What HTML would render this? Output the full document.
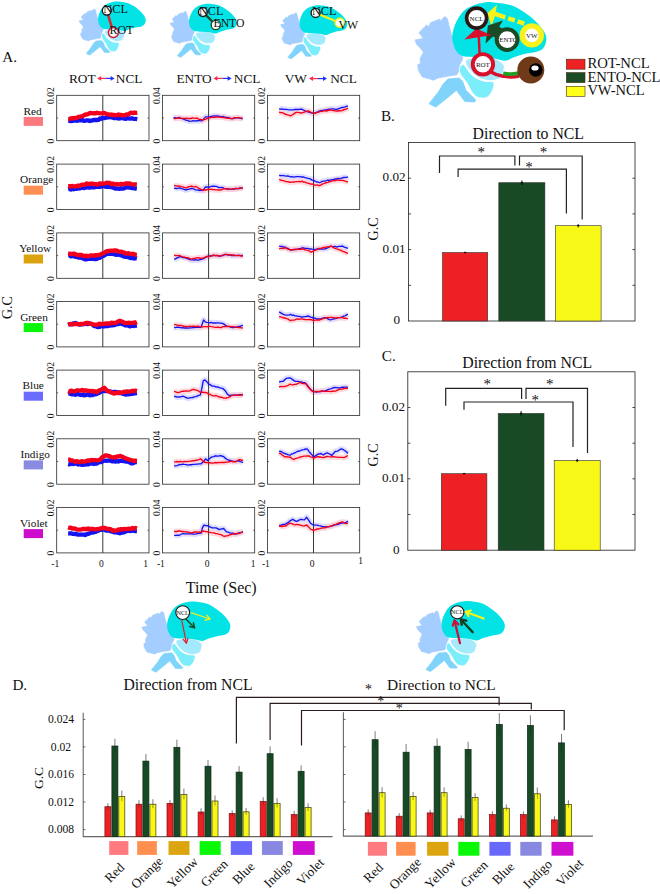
<!DOCTYPE html>
<html><head><meta charset="utf-8"><title>Figure</title>
<style>
html,body{margin:0;padding:0;background:#fff;}
svg{display:block;font-family:"Liberation Serif",serif;}
</style></head><body>
<svg width="660" height="894" viewBox="0 0 660 894">
<rect width="660" height="894" fill="#fff"/>
<defs><g id="brain">
<path d="M65.7 176.2 L96.8 171.2 L80.2 149.2 L109.2 120.2 L115.4 128.5 L123.7 111.9 L156.8 99.5 L159.7 106.6 L175.5 89.2 L185.8 97.4 L190.0 118.2 L200.3 155.4 L212.8 192.7 L229.3 230.0 L241.8 238.3 L241.8 246.6 L231.4 267.3 L225.2 296.3 L221.0 304.6 L183.8 310.8 L150.6 317.0 L134.0 325.3 L121.6 321.2 L92.6 312.9 L78.1 288.0 L76.0 267.3 L86.4 263.2 L84.3 246.6 L96.8 221.7 L88.5 209.3 L71.9 192.7Z" fill="#a4ceff" stroke="#a4ceff" stroke-width="3" stroke-linejoin="round"/>
<path d="M187.9 321.2 L229.3 317.0 L241.8 329.5 L254.2 362.6 L279.0 387.5 L291.5 399.9 L285.3 406.1 L250.0 404.0 L225.2 370.9 L219.0 362.6 L183.8 391.6 L142.3 424.7 L117.5 412.3 L150.6 370.9 L171.3 337.7Z" fill="#80d3fa" stroke="#80d3fa" stroke-width="3" stroke-linejoin="round"/>
<path d="M232.2 276.3 C234.8 273.0 239.4 263.5 246.3 268.1 C253.2 272.7 264.6 294.8 273.7 303.7 C282.8 312.6 292.6 317.2 301.1 321.5 C309.6 325.8 316.3 327.7 324.8 329.3 C333.3 330.9 346.6 328.8 352.2 331.1 C357.8 333.4 358.7 336.4 358.1 343.0 C357.5 349.6 353.4 362.6 348.5 370.4 C343.6 378.2 337.0 387.1 328.5 390.0 C320.0 392.9 305.8 391.4 297.4 388.1 C288.9 384.8 284.4 379.2 277.8 370.4 C271.2 361.6 265.3 346.3 258.1 335.2 C250.9 324.1 239.0 311.6 234.4 303.7 C229.8 295.8 230.8 292.4 230.4 287.8 C230.0 283.2 229.5 279.6 232.2 276.3Z" fill="#7ceefb" stroke="#fff" stroke-width="3"/>
<path d="M254.1 252.6 C256.6 249.2 257.5 247.0 269.3 244.8 C281.1 242.6 308.1 238.7 324.8 239.3 C341.5 239.9 357.9 243.7 369.3 248.5 C380.7 253.3 389.0 262.2 393.3 268.1 C397.6 274.0 396.8 275.8 395.2 283.7 C393.6 291.6 390.5 308.5 383.7 315.6 C376.9 322.7 364.2 324.8 354.4 326.3 C344.6 327.8 335.3 327.2 324.8 324.4 C314.3 321.6 301.4 316.4 291.5 309.6 C281.6 302.8 271.8 291.1 265.6 283.7 C259.4 276.3 256.3 270.4 254.4 265.2 C252.5 260.0 251.6 256.0 254.1 252.6Z" fill="#a4e9fc" stroke="#fff" stroke-width="3.4"/>
<path d="M351.5 36.3 C368.2 37.8 399.7 41.2 418.6 46.8 C437.5 52.4 450.4 61.0 464.8 69.9 C479.2 78.8 493.2 89.6 504.9 100.1 C516.6 110.6 527.4 122.0 535.2 133.1 C543.0 144.2 550.1 155.6 551.7 166.7 C553.4 177.8 549.5 191.4 545.1 199.7 C540.7 208.0 536.4 212.2 525.3 216.7 C514.2 221.2 494.1 222.8 478.5 226.6 C462.9 230.4 445.2 235.4 431.8 239.8 C418.4 244.2 411.6 252.4 398.2 253.0 C384.8 253.6 368.2 245.3 351.5 243.1 C334.8 240.9 315.9 240.9 298.1 239.8 C280.3 238.7 258.1 240.3 244.8 236.5 C231.5 232.7 225.0 225.6 218.4 216.7 C211.8 207.8 207.4 194.4 205.2 183.2 C203.0 172.0 203.0 161.8 205.2 149.6 C207.4 137.4 211.8 123.3 218.4 110.0 C225.0 96.7 233.7 80.4 244.8 69.9 C255.9 59.4 272.6 52.1 284.9 46.8 C297.2 41.5 307.4 39.8 318.5 38.0 C329.6 36.2 334.8 34.8 351.5 36.3Z" fill="#03e3e5"/>
</g>
<g id="brainS">
<path d="M65.7 176.2 L96.8 171.2 L80.2 149.2 L109.2 120.2 L115.4 128.5 L123.7 111.9 L156.8 99.5 L159.7 106.6 L175.5 89.2 L185.8 97.4 L190.0 118.2 L200.3 155.4 L212.8 192.7 L229.3 230.0 L241.8 238.3 L241.8 246.6 L231.4 267.3 L225.2 296.3 L221.0 304.6 L183.8 310.8 L150.6 317.0 L134.0 325.3 L121.6 321.2 L92.6 312.9 L78.1 288.0 L76.0 267.3 L86.4 263.2 L84.3 246.6 L96.8 221.7 L88.5 209.3 L71.9 192.7Z" fill="#a4ceff" stroke="#a4ceff" stroke-width="3" stroke-linejoin="round"/>
<path d="M187.9 325.2 L229.3 321.0 L241.8 333.5 L254.2 366.6 L279.0 391.5 L291.5 403.9 L285.3 410.1 L250.0 408.0 L225.2 374.9 L219.0 366.6 L183.8 395.6 L142.3 428.7 L117.5 416.3 L150.6 374.9 L171.3 341.7Z" fill="#80d3fa" stroke="#80d3fa" stroke-width="3" stroke-linejoin="round"/>
<path d="M232.2 277.0 C234.8 273.5 239.4 263.1 246.3 268.1 C253.2 273.1 264.6 297.2 273.7 306.9 C282.8 316.6 292.6 321.7 301.1 326.3 C309.6 331.0 316.3 333.1 324.8 334.8 C333.3 336.6 346.6 334.3 352.2 336.8 C357.8 339.3 358.7 342.6 358.1 349.8 C357.5 356.9 353.4 371.1 348.5 379.6 C343.6 388.2 337.0 397.8 328.5 401.0 C320.0 404.2 305.8 402.5 297.4 398.9 C288.9 395.3 284.4 389.2 277.8 379.6 C271.2 370.0 265.3 353.4 258.1 341.2 C250.9 329.1 239.0 315.5 234.4 306.9 C229.8 298.3 230.8 294.6 230.4 289.6 C230.0 284.6 229.5 280.6 232.2 277.0Z" fill="#7ceefb" stroke="#fff" stroke-width="4"/>
<path d="M254.1 252.6 C256.6 249.2 257.5 247.0 269.3 244.8 C281.1 242.6 308.1 238.7 324.8 239.3 C341.5 239.9 357.9 243.7 369.3 248.5 C380.7 253.3 389.0 262.2 393.3 268.1 C397.6 274.0 396.8 275.8 395.2 283.7 C393.6 291.6 390.5 308.5 383.7 315.6 C376.9 322.7 364.2 324.8 354.4 326.3 C344.6 327.8 335.3 327.2 324.8 324.4 C314.3 321.6 301.4 316.4 291.5 309.6 C281.6 302.8 271.8 291.1 265.6 283.7 C259.4 276.3 256.3 270.4 254.4 265.2 C252.5 260.0 251.6 256.0 254.1 252.6Z" fill="#a4e9fc" stroke="#fff" stroke-width="4"/>
<path d="M351.5 36.3 C368.2 37.8 399.7 41.2 418.6 46.8 C437.5 52.4 450.4 61.0 464.8 69.9 C479.2 78.8 493.2 89.6 504.9 100.1 C516.6 110.6 527.4 122.0 535.2 133.1 C543.0 144.2 550.1 155.6 551.7 166.7 C553.4 177.8 549.5 191.4 545.1 199.7 C540.7 208.0 536.4 212.2 525.3 216.7 C514.2 221.2 494.1 222.8 478.5 226.6 C462.9 230.4 445.2 235.4 431.8 239.8 C418.4 244.2 411.6 252.4 398.2 253.0 C384.8 253.6 368.2 245.3 351.5 243.1 C334.8 240.9 315.9 240.9 298.1 239.8 C280.3 238.7 258.1 240.3 244.8 236.5 C231.5 232.7 225.0 225.6 218.4 216.7 C211.8 207.8 207.4 194.4 205.2 183.2 C203.0 172.0 203.0 161.8 205.2 149.6 C207.4 137.4 211.8 123.3 218.4 110.0 C225.0 96.7 233.7 80.4 244.8 69.9 C255.9 59.4 272.6 52.1 284.9 46.8 C297.2 41.5 307.4 39.8 318.5 38.0 C329.6 36.2 334.8 34.8 351.5 36.3Z" fill="#03e3e5"/>
</g></defs>
<use href="#brainS" transform="translate(70.10 -3.50) scale(0.1370)"/>
<use href="#brainS" transform="translate(161.09 -1.17) scale(0.1370)"/>
<use href="#brainS" transform="translate(271.59 0.33) scale(0.1370)"/>
<use href="#brain" transform="translate(130.00 595.00) scale(0.1818)"/>
<use href="#brain" transform="translate(404.50 594.50) scale(0.1818)"/>
<use href="#brain" transform="translate(397.30 -7.60) scale(0.2700)"/>
<line x1="106.8" y1="10.6" x2="113.4" y2="32.5" stroke="#e0202c" stroke-width="2.5"/>
<circle cx="106.8" cy="10.6" r="4.5" fill="#fff" stroke="#111" stroke-width="1.3"/>
<circle cx="113.4" cy="32.5" r="5.0" fill="#fff" stroke="#d8102c" stroke-width="1.4"/>
<text x="103.30" y="12.80" font-size="12.3" text-anchor="start" fill="#111">NCL</text>
<text x="109.60" y="34.30" font-size="12" text-anchor="start" fill="#111">ROT</text>
<line x1="202.9" y1="12.1" x2="215.8" y2="25" stroke="#1d4a26" stroke-width="2.2"/>
<circle cx="202.9" cy="12.1" r="4.4" fill="#fff" stroke="#111" stroke-width="1.3"/>
<circle cx="215.8" cy="25" r="4.6" fill="#fff" stroke="#1d4a26" stroke-width="1.4"/>
<text x="199.10" y="15.20" font-size="12.1" text-anchor="start" fill="#111">NCL</text>
<text x="213.50" y="27.10" font-size="11.7" text-anchor="start" fill="#111">ENTO</text>
<line x1="315.6" y1="12.9" x2="339.8" y2="22.7" stroke="#f4f01a" stroke-width="2.2"/>
<circle cx="315.6" cy="12.9" r="4.5" fill="#fff" stroke="#111" stroke-width="1.3"/>
<circle cx="339.8" cy="22.7" r="4.6" fill="#fff" stroke="#f4f01a" stroke-width="1.6"/>
<text x="312.10" y="14.60" font-size="12.1" text-anchor="start" fill="#111">NCL</text>
<text x="338.60" y="28.80" font-size="11.8" text-anchor="start" fill="#111">VW</text>
<line x1="190.9" y1="612.6" x2="210" y2="619" stroke="#f2ee1c" stroke-width="1.3" stroke-linecap="round"/>
<path d="M205.1 620.1 L210 619 L206.8 615.2" fill="none" stroke="#f2ee1c" stroke-width="1.3" stroke-linecap="round" stroke-linejoin="round"/>
<line x1="186.4" y1="619.5" x2="194.5" y2="627.7" stroke="#1d4a26" stroke-width="1.5" stroke-linecap="round"/>
<path d="M189.6 626.5 L194.5 627.7 L193.4 622.8" fill="none" stroke="#1d4a26" stroke-width="1.5" stroke-linecap="round" stroke-linejoin="round"/>
<line x1="181.8" y1="620.5" x2="186.4" y2="643.2" stroke="#e0202c" stroke-width="1.2" stroke-linecap="round"/>
<path d="M183.2 639.4 L186.4 643.2 L187.9 638.4" fill="none" stroke="#e0202c" stroke-width="1.2" stroke-linecap="round" stroke-linejoin="round"/>
<circle cx="182.7" cy="612.6" r="6.9" fill="#fff" stroke="#1a1a1a" stroke-width="1.1"/>
<text x="182.70" y="614.70" font-size="6.2" text-anchor="middle" fill="#111">NCL</text>
<line x1="483.6" y1="618.6" x2="465.5" y2="611.7" stroke="#f6f21a" stroke-width="2.1" stroke-linecap="round"/>
<path d="M470.8 610.4 L465.5 611.7 L468.6 616.2" fill="none" stroke="#f6f21a" stroke-width="2.1" stroke-linecap="round" stroke-linejoin="round"/>
<line x1="472.7" y1="632.3" x2="460.9" y2="619.5" stroke="#163d20" stroke-width="2.4" stroke-linecap="round"/>
<path d="M466.3 620.7 L460.9 619.5 L461.7 624.9" fill="none" stroke="#163d20" stroke-width="2.4" stroke-linecap="round" stroke-linejoin="round"/>
<line x1="460" y1="643.2" x2="454.5" y2="620.5" stroke="#cf1038" stroke-width="2.2" stroke-linecap="round"/>
<path d="M458.4 624.4 L454.5 620.5 L452.8 625.7" fill="none" stroke="#cf1038" stroke-width="2.2" stroke-linecap="round" stroke-linejoin="round"/>
<circle cx="457.3" cy="612.3" r="6.6" fill="#fff" stroke="#1a1a1a" stroke-width="1.1"/>
<text x="457.30" y="614.40" font-size="6.2" text-anchor="middle" fill="#111">NCL</text>
<path d="M491 72 Q496.5 75.4 503 76.2 Q511 77.8 519 76.2" fill="none" stroke="#d8102c" stroke-width="3.4"/>
<path d="M503.2 73.4 Q510.5 75 518.2 73.2" fill="none" stroke="#1fa024" stroke-width="3.8"/>
<circle cx="530.8" cy="70" r="13.5" fill="#6f3a18" stroke="none" stroke-width="0"/>
<circle cx="535.8" cy="70" r="6.8" fill="#000" stroke="none" stroke-width="0"/>
<ellipse cx="535" cy="68" rx="3.6" ry="2.6" fill="#fff"/>
<line x1="493.5" y1="13.4" x2="525.5" y2="24" stroke="#f6f21a" stroke-width="4.4" stroke-dasharray="12.4 3 7 3 7 3 7"/>
<path d="M487.3 13.3 L497 4.8 L495.6 13 L494.4 18 L491.5 26 Z" fill="#f6f21a"/>
<path d="M487.9 25.5 L503 20.4 L499.2 26.6 L504 30 L498 39 L493 36.6 L485.5 43.6 Z" fill="#1b4a25"/>
<line x1="479.6" y1="54" x2="478.7" y2="34" stroke="#d8102c" stroke-width="2.5"/>
<path d="M464.2 39.4 L476.4 28.4 L491.5 35.2 Z" fill="#d8102c"/>
<circle cx="531.8" cy="35.4" r="9.5" fill="#fff" stroke="#f6f21a" stroke-width="5.4"/>
<circle cx="507.1" cy="39.6" r="10.4" fill="#fff" stroke="#1b4a25" stroke-width="4.0"/>
<circle cx="476.6" cy="18.1" r="10" fill="#fff" stroke="#2a1816" stroke-width="3.6"/>
<circle cx="482.9" cy="64.3" r="10.2" fill="#fff" stroke="#d8102c" stroke-width="3.9"/>
<text x="476.60" y="20.50" font-size="7" text-anchor="middle" fill="#111">NCL</text>
<text x="482.90" y="66.70" font-size="7" text-anchor="middle" fill="#111">ROT</text>
<text x="531.80" y="37.80" font-size="7" text-anchor="middle" fill="#111">VW</text>
<clipPath id="entoclip"><circle cx="507.1" cy="39.6" r="8.5"/></clipPath>
<text x="508.4" y="42" font-size="7" text-anchor="middle" fill="#111" clip-path="url(#entoclip)">ENTO</text>
<rect x="566.3" y="59.2" width="18.7" height="10" fill="#ee2225" stroke="#4a2a10" stroke-width="0.6"/>
<rect x="566.3" y="72.6" width="18.7" height="10" fill="#1a4d26" stroke="#4a2a10" stroke-width="0.6"/>
<rect x="566.3" y="86.3" width="18.7" height="10" fill="#ffff1a" stroke="#4a2a10" stroke-width="0.6"/>
<text x="587.40" y="67.60" font-size="14.7" text-anchor="start" fill="#111">ROT-NCL</text>
<text x="587.40" y="81.70" font-size="14.7" text-anchor="start" fill="#111">ENTO-NCL</text>
<text x="587.40" y="95.40" font-size="14.5" text-anchor="start" fill="#111">VW-NCL</text>
<g id="panelA">
<rect x="56.7" y="95.3" width="92.3" height="45.4" fill="none" stroke="#2a2a2a" stroke-width="0.8"/>
<line x1="102.8" y1="95.3" x2="102.8" y2="140.7" stroke="#222" stroke-width="0.9"/>
<polyline points="68.2,120.8 69.6,120.8 71.1,121.0 72.5,120.8 74.0,120.6 75.4,120.4 76.8,120.8 78.2,120.5 79.6,120.2 81.1,120.4 82.5,120.0 84.0,120.9 85.5,120.7 86.9,120.4 88.4,120.4 89.8,121.0 91.3,120.7 92.7,120.2 94.1,120.0 95.5,120.0 96.9,120.0 98.4,119.9 99.8,118.5 101.3,118.8 102.7,117.8 104.2,118.1 105.6,117.9 107.1,117.1 108.5,117.4 110.0,117.1 111.4,117.2 112.8,117.8 114.2,118.2 115.6,118.2 117.1,117.8 118.5,118.5 120.0,118.3 121.5,117.9 122.9,118.3 124.4,118.7 125.8,118.9 127.2,118.1 128.6,118.4 130.0,118.7 131.5,118.2 132.9,118.6 134.4,118.9 135.8,118.9 137.3,119.2" fill="none" stroke="#1414f0" stroke-width="4.3" stroke-linejoin="round" stroke-linecap="butt"/>
<polyline points="68.2,118.8 69.6,118.8 71.1,118.4 72.5,118.1 74.0,118.3 75.4,117.8 76.8,117.9 78.2,117.0 79.6,116.8 81.1,116.4 82.5,116.2 84.0,115.2 85.5,114.5 86.9,114.5 88.4,113.9 89.8,113.0 91.3,113.0 92.7,113.3 94.1,113.2 95.5,113.3 96.9,112.7 98.4,113.2 99.8,113.4 101.3,113.3 102.7,113.2 104.2,113.0 105.6,113.6 107.1,114.0 108.5,114.3 110.0,114.8 111.4,114.5 112.8,115.2 114.2,114.9 115.6,115.3 117.1,115.1 118.5,114.5 120.0,115.1 121.5,114.9 122.9,115.4 124.4,115.2 125.8,114.7 127.2,114.4 128.6,114.3 130.0,113.1 131.5,112.7 132.9,113.2 134.4,112.5 135.8,112.9 137.3,112.8" fill="none" stroke="#f2001c" stroke-width="4.3" stroke-linejoin="round" stroke-linecap="butt"/>
<line x1="56.7" y1="118.0" x2="58.2" y2="118.0" stroke="#222" stroke-width="0.7"/>
<line x1="147.5" y1="118.0" x2="149.0" y2="118.0" stroke="#222" stroke-width="0.7"/>
<text x="54.20" y="95.60" font-size="9.5" text-anchor="middle" fill="#111" transform="rotate(-90 54.20 95.60)">0.02</text>
<text x="54.20" y="141.00" font-size="9.5" text-anchor="middle" fill="#111" transform="rotate(-90 54.20 141.00)">0</text>
<polyline points="173.6,118.0 175.1,117.7 176.5,118.1 178.0,118.0 179.4,117.5 180.8,118.3 182.3,118.6 183.7,119.2 185.2,119.9 186.6,120.4 188.0,120.5 189.5,121.3 190.9,121.2 192.3,121.0 193.8,120.7 195.2,121.1 196.7,120.7 198.1,120.7 199.5,120.6 201.0,120.8 202.4,120.7 203.9,118.6 205.5,116.9 207.0,116.8 208.5,116.8 209.9,116.9 211.4,116.5 212.8,116.1 214.2,115.9 215.7,115.8 217.1,116.0 218.6,116.2 220.0,116.5 221.4,116.8 222.9,116.5 224.3,117.0 225.8,117.3 227.2,117.5 228.6,117.7 230.1,118.5 231.5,118.6 233.0,118.6 234.4,118.1 235.8,117.9 237.3,117.9 239.0,117.9 240.8,118.3 242.6,118.8" fill="none" stroke="#d2d2ff" stroke-width="5.6" stroke-linejoin="round" opacity="0.75"/>
<polyline points="173.6,118.3 175.1,118.6 176.5,118.4 178.0,117.9 179.4,118.0 180.8,118.1 182.3,118.3 183.7,118.5 185.2,118.3 186.6,118.1 188.0,118.7 189.5,118.4 190.9,118.5 192.3,118.0 193.8,118.2 195.2,118.3 196.7,117.9 198.1,118.9 199.5,119.4 201.0,119.4 202.4,120.1 203.9,119.7 205.5,119.4 207.0,118.5 208.5,117.9 209.9,117.8 211.4,117.3 212.8,117.2 214.2,117.2 215.7,117.2 217.1,117.1 218.6,117.1 220.0,117.1 221.4,117.4 222.9,117.5 224.3,117.5 225.8,118.1 227.2,118.2 228.6,118.3 230.1,118.1 231.5,118.6 233.0,118.5 234.4,117.7 235.8,117.7 237.3,117.6 239.0,117.8 240.8,118.2 242.6,118.0" fill="none" stroke="#ffcdd2" stroke-width="5.6" stroke-linejoin="round" opacity="0.75"/>
<rect x="162.4" y="95.3" width="92.3" height="45.4" fill="none" stroke="#2a2a2a" stroke-width="0.8"/>
<line x1="208.6" y1="95.3" x2="208.6" y2="140.7" stroke="#222" stroke-width="0.9"/>
<polyline points="173.6,118.0 175.1,117.7 176.5,118.1 178.0,118.0 179.4,117.5 180.8,118.3 182.3,118.6 183.7,119.2 185.2,119.9 186.6,120.4 188.0,120.5 189.5,121.3 190.9,121.2 192.3,121.0 193.8,120.7 195.2,121.1 196.7,120.7 198.1,120.7 199.5,120.6 201.0,120.8 202.4,120.7 203.9,118.6 205.5,116.9 207.0,116.8 208.5,116.8 209.9,116.9 211.4,116.5 212.8,116.1 214.2,115.9 215.7,115.8 217.1,116.0 218.6,116.2 220.0,116.5 221.4,116.8 222.9,116.5 224.3,117.0 225.8,117.3 227.2,117.5 228.6,117.7 230.1,118.5 231.5,118.6 233.0,118.6 234.4,118.1 235.8,117.9 237.3,117.9 239.0,117.9 240.8,118.3 242.6,118.8" fill="none" stroke="#1414f0" stroke-width="1.35" stroke-linejoin="round"/>
<polyline points="173.6,118.3 175.1,118.6 176.5,118.4 178.0,117.9 179.4,118.0 180.8,118.1 182.3,118.3 183.7,118.5 185.2,118.3 186.6,118.1 188.0,118.7 189.5,118.4 190.9,118.5 192.3,118.0 193.8,118.2 195.2,118.3 196.7,117.9 198.1,118.9 199.5,119.4 201.0,119.4 202.4,120.1 203.9,119.7 205.5,119.4 207.0,118.5 208.5,117.9 209.9,117.8 211.4,117.3 212.8,117.2 214.2,117.2 215.7,117.2 217.1,117.1 218.6,117.1 220.0,117.1 221.4,117.4 222.9,117.5 224.3,117.5 225.8,118.1 227.2,118.2 228.6,118.3 230.1,118.1 231.5,118.6 233.0,118.5 234.4,117.7 235.8,117.7 237.3,117.6 239.0,117.8 240.8,118.2 242.6,118.0" fill="none" stroke="#f2001c" stroke-width="1.35" stroke-linejoin="round"/>
<line x1="162.4" y1="118.0" x2="163.9" y2="118.0" stroke="#222" stroke-width="0.7"/>
<line x1="253.2" y1="118.0" x2="254.7" y2="118.0" stroke="#222" stroke-width="0.7"/>
<text x="159.90" y="95.60" font-size="9.5" text-anchor="middle" fill="#111" transform="rotate(-90 159.90 95.60)">0.04</text>
<text x="159.90" y="141.00" font-size="9.5" text-anchor="middle" fill="#111" transform="rotate(-90 159.90 141.00)">0</text>
<polyline points="279.1,108.8 280.5,109.1 282.0,108.9 283.4,109.4 284.8,109.4 286.3,109.4 287.7,109.7 289.2,109.9 290.6,109.8 292.0,109.8 293.5,109.8 294.9,109.5 296.4,109.5 297.8,109.5 299.2,109.3 300.7,109.2 302.1,109.2 303.6,110.2 305.0,110.8 306.4,111.4 307.9,111.9 309.3,112.3 310.7,112.5 312.1,113.1 313.5,113.3 314.9,113.0 316.4,112.4 317.8,111.9 319.2,111.1 320.7,110.6 322.1,110.5 323.6,110.4 325.0,110.0 326.4,109.9 327.9,109.4 329.3,109.1 330.8,109.1 332.2,108.8 333.6,108.9 335.1,109.3 336.5,109.4 338.0,108.8 339.4,108.4 340.8,107.8 342.3,107.5 343.7,107.3 345.1,106.9 346.5,106.4 347.9,105.9" fill="none" stroke="#d2d2ff" stroke-width="5.6" stroke-linejoin="round" opacity="0.75"/>
<polyline points="279.1,112.1 280.5,112.7 282.0,112.6 283.4,113.1 284.8,114.0 286.3,114.5 287.7,114.9 289.2,115.1 290.6,115.8 292.0,115.0 293.5,114.1 294.9,113.0 296.4,112.4 297.8,112.4 299.2,112.7 300.7,113.0 302.1,112.9 303.6,112.3 305.0,111.9 306.4,111.4 307.9,111.0 309.3,111.4 310.7,112.3 312.1,112.8 313.5,113.4 314.9,113.4 316.4,112.7 317.8,112.4 319.2,111.8 320.7,111.3 322.1,111.3 323.6,110.9 325.0,110.9 326.4,111.0 327.9,110.5 329.3,110.0 330.8,110.1 332.2,110.4 333.6,110.6 335.1,110.9 336.5,111.0 338.0,111.0 339.4,110.5 340.8,110.9 342.3,110.6 343.7,109.6 345.1,109.5 346.5,108.9 347.9,108.2" fill="none" stroke="#ffcdd2" stroke-width="5.6" stroke-linejoin="round" opacity="0.75"/>
<rect x="267.4" y="95.3" width="92.3" height="45.4" fill="none" stroke="#2a2a2a" stroke-width="0.8"/>
<line x1="313.5" y1="95.3" x2="313.5" y2="140.7" stroke="#222" stroke-width="0.9"/>
<polyline points="279.1,108.8 280.5,109.1 282.0,108.9 283.4,109.4 284.8,109.4 286.3,109.4 287.7,109.7 289.2,109.9 290.6,109.8 292.0,109.8 293.5,109.8 294.9,109.5 296.4,109.5 297.8,109.5 299.2,109.3 300.7,109.2 302.1,109.2 303.6,110.2 305.0,110.8 306.4,111.4 307.9,111.9 309.3,112.3 310.7,112.5 312.1,113.1 313.5,113.3 314.9,113.0 316.4,112.4 317.8,111.9 319.2,111.1 320.7,110.6 322.1,110.5 323.6,110.4 325.0,110.0 326.4,109.9 327.9,109.4 329.3,109.1 330.8,109.1 332.2,108.8 333.6,108.9 335.1,109.3 336.5,109.4 338.0,108.8 339.4,108.4 340.8,107.8 342.3,107.5 343.7,107.3 345.1,106.9 346.5,106.4 347.9,105.9" fill="none" stroke="#1414f0" stroke-width="1.35" stroke-linejoin="round"/>
<polyline points="279.1,112.1 280.5,112.7 282.0,112.6 283.4,113.1 284.8,114.0 286.3,114.5 287.7,114.9 289.2,115.1 290.6,115.8 292.0,115.0 293.5,114.1 294.9,113.0 296.4,112.4 297.8,112.4 299.2,112.7 300.7,113.0 302.1,112.9 303.6,112.3 305.0,111.9 306.4,111.4 307.9,111.0 309.3,111.4 310.7,112.3 312.1,112.8 313.5,113.4 314.9,113.4 316.4,112.7 317.8,112.4 319.2,111.8 320.7,111.3 322.1,111.3 323.6,110.9 325.0,110.9 326.4,111.0 327.9,110.5 329.3,110.0 330.8,110.1 332.2,110.4 333.6,110.6 335.1,110.9 336.5,111.0 338.0,111.0 339.4,110.5 340.8,110.9 342.3,110.6 343.7,109.6 345.1,109.5 346.5,108.9 347.9,108.2" fill="none" stroke="#f2001c" stroke-width="1.35" stroke-linejoin="round"/>
<line x1="267.4" y1="118.0" x2="268.9" y2="118.0" stroke="#222" stroke-width="0.7"/>
<line x1="358.2" y1="118.0" x2="359.7" y2="118.0" stroke="#222" stroke-width="0.7"/>
<text x="264.90" y="95.60" font-size="9.5" text-anchor="middle" fill="#111" transform="rotate(-90 264.90 95.60)">0.02</text>
<text x="264.90" y="141.00" font-size="9.5" text-anchor="middle" fill="#111" transform="rotate(-90 264.90 141.00)">0</text>
<rect x="56.7" y="164.1" width="92.3" height="45.4" fill="none" stroke="#2a2a2a" stroke-width="0.8"/>
<line x1="102.8" y1="164.1" x2="102.8" y2="209.5" stroke="#222" stroke-width="0.9"/>
<polyline points="68.1,189.2 69.5,188.9 71.0,189.5 72.4,188.9 73.8,189.3 75.3,188.8 76.7,188.9 78.2,188.2 79.6,188.5 81.0,188.0 82.5,187.5 83.9,188.1 85.4,187.7 86.8,187.1 88.2,187.6 89.7,187.5 91.1,187.4 92.6,187.4 94.0,187.4 95.4,186.9 96.9,186.9 98.3,186.7 99.7,187.0 101.1,186.7 102.5,186.1 103.9,186.0 105.4,186.7 106.8,186.9 108.2,186.8 109.7,186.6 111.1,187.2 112.6,187.4 114.0,188.0 115.4,188.7 116.9,188.5 118.3,188.6 119.8,188.8 121.2,188.2 122.6,188.6 124.1,188.3 125.5,187.7 127.0,187.1 128.4,187.5 129.8,187.5 131.3,188.0 132.7,187.9 134.1,188.3 135.5,188.5 136.9,188.7" fill="none" stroke="#1414f0" stroke-width="4.3" stroke-linejoin="round" stroke-linecap="butt"/>
<polyline points="68.1,186.3 69.5,186.2 71.0,186.3 72.4,185.9 73.8,186.4 75.3,186.5 76.7,186.2 78.2,185.5 79.6,185.8 81.0,185.1 82.5,184.6 83.9,184.9 85.4,184.2 86.8,183.4 88.2,184.2 89.7,183.9 91.1,183.6 92.6,183.6 94.0,184.2 95.4,184.2 96.9,184.5 98.3,184.3 99.7,183.4 101.1,183.8 102.5,183.5 103.9,183.7 105.4,183.3 106.8,182.7 108.2,182.9 109.7,183.0 111.1,184.1 112.6,183.6 114.0,183.9 115.4,184.5 116.9,184.0 118.3,184.4 119.8,184.4 121.2,183.8 122.6,184.1 124.1,184.2 125.5,183.5 127.0,183.4 128.4,183.7 129.8,183.4 131.3,184.0 132.7,184.4 134.1,184.4 135.5,184.3 136.9,184.4" fill="none" stroke="#f2001c" stroke-width="4.3" stroke-linejoin="round" stroke-linecap="butt"/>
<line x1="56.7" y1="186.8" x2="58.2" y2="186.8" stroke="#222" stroke-width="0.7"/>
<line x1="147.5" y1="186.8" x2="149.0" y2="186.8" stroke="#222" stroke-width="0.7"/>
<text x="54.20" y="164.40" font-size="9.5" text-anchor="middle" fill="#111" transform="rotate(-90 54.20 164.40)">0.02</text>
<text x="54.20" y="209.80" font-size="9.5" text-anchor="middle" fill="#111" transform="rotate(-90 54.20 209.80)">0</text>
<polyline points="174.1,188.6 175.5,188.2 177.0,188.6 178.4,188.2 179.8,188.0 181.3,188.6 182.7,188.8 184.2,189.3 185.6,190.0 187.0,189.5 188.5,189.4 189.9,188.8 191.4,188.5 192.8,188.7 194.2,189.1 195.7,189.8 197.1,190.2 198.6,190.0 200.0,190.5 201.4,190.2 202.9,190.6 204.2,188.6 205.5,187.0 207.0,186.9 208.5,187.1 209.9,187.0 211.4,186.3 212.8,186.2 214.2,186.2 215.7,186.3 217.1,186.7 218.6,187.5 220.0,187.6 221.4,187.4 222.9,187.7 224.3,188.3 225.8,188.7 227.2,189.0 228.6,189.0 230.1,189.3 231.5,189.3 233.0,189.1 234.4,189.1 235.8,188.4 237.3,188.6 238.7,188.5 240.1,187.9 241.5,188.1 242.9,187.8" fill="none" stroke="#d2d2ff" stroke-width="5.6" stroke-linejoin="round" opacity="0.75"/>
<polyline points="174.1,185.5 175.5,185.7 177.0,186.2 178.4,186.0 179.8,186.2 181.3,186.7 182.7,186.8 184.2,187.4 185.6,187.8 187.0,187.6 188.5,186.7 189.9,186.5 191.4,186.1 192.8,186.6 194.2,186.8 195.7,186.5 197.1,187.2 198.6,188.2 200.0,188.8 201.4,189.6 202.9,190.2 204.3,189.8 205.7,190.0 207.1,189.5 208.5,189.5 209.9,189.4 211.4,189.2 212.8,189.6 214.2,189.6 215.7,189.9 217.1,189.8 218.6,190.0 220.0,190.0 221.4,189.8 222.9,189.2 224.3,188.7 225.8,188.7 227.2,189.1 228.6,189.1 230.1,189.2 231.5,189.2 233.0,188.9 234.4,188.7 235.8,188.4 237.3,188.6 238.7,188.3 240.1,188.5 241.5,188.1 242.9,188.1" fill="none" stroke="#ffcdd2" stroke-width="5.6" stroke-linejoin="round" opacity="0.75"/>
<rect x="162.4" y="164.1" width="92.3" height="45.4" fill="none" stroke="#2a2a2a" stroke-width="0.8"/>
<line x1="208.6" y1="164.1" x2="208.6" y2="209.5" stroke="#222" stroke-width="0.9"/>
<polyline points="174.1,188.6 175.5,188.2 177.0,188.6 178.4,188.2 179.8,188.0 181.3,188.6 182.7,188.8 184.2,189.3 185.6,190.0 187.0,189.5 188.5,189.4 189.9,188.8 191.4,188.5 192.8,188.7 194.2,189.1 195.7,189.8 197.1,190.2 198.6,190.0 200.0,190.5 201.4,190.2 202.9,190.6 204.2,188.6 205.5,187.0 207.0,186.9 208.5,187.1 209.9,187.0 211.4,186.3 212.8,186.2 214.2,186.2 215.7,186.3 217.1,186.7 218.6,187.5 220.0,187.6 221.4,187.4 222.9,187.7 224.3,188.3 225.8,188.7 227.2,189.0 228.6,189.0 230.1,189.3 231.5,189.3 233.0,189.1 234.4,189.1 235.8,188.4 237.3,188.6 238.7,188.5 240.1,187.9 241.5,188.1 242.9,187.8" fill="none" stroke="#1414f0" stroke-width="1.35" stroke-linejoin="round"/>
<polyline points="174.1,185.5 175.5,185.7 177.0,186.2 178.4,186.0 179.8,186.2 181.3,186.7 182.7,186.8 184.2,187.4 185.6,187.8 187.0,187.6 188.5,186.7 189.9,186.5 191.4,186.1 192.8,186.6 194.2,186.8 195.7,186.5 197.1,187.2 198.6,188.2 200.0,188.8 201.4,189.6 202.9,190.2 204.3,189.8 205.7,190.0 207.1,189.5 208.5,189.5 209.9,189.4 211.4,189.2 212.8,189.6 214.2,189.6 215.7,189.9 217.1,189.8 218.6,190.0 220.0,190.0 221.4,189.8 222.9,189.2 224.3,188.7 225.8,188.7 227.2,189.1 228.6,189.1 230.1,189.2 231.5,189.2 233.0,188.9 234.4,188.7 235.8,188.4 237.3,188.6 238.7,188.3 240.1,188.5 241.5,188.1 242.9,188.1" fill="none" stroke="#f2001c" stroke-width="1.35" stroke-linejoin="round"/>
<line x1="162.4" y1="186.8" x2="163.9" y2="186.8" stroke="#222" stroke-width="0.7"/>
<line x1="253.2" y1="186.8" x2="254.7" y2="186.8" stroke="#222" stroke-width="0.7"/>
<text x="159.90" y="164.40" font-size="9.5" text-anchor="middle" fill="#111" transform="rotate(-90 159.90 164.40)">0.04</text>
<text x="159.90" y="209.80" font-size="9.5" text-anchor="middle" fill="#111" transform="rotate(-90 159.90 209.80)">0</text>
<polyline points="279.1,175.3 280.5,175.5 282.0,175.6 283.4,175.7 284.8,175.8 286.3,176.1 287.7,176.0 289.2,176.4 290.6,176.8 292.0,176.7 293.5,177.1 294.9,176.9 296.4,176.7 297.8,176.6 299.2,176.6 300.7,176.9 302.1,177.0 303.6,177.0 305.0,177.6 306.4,177.9 307.9,178.4 309.3,178.7 310.7,179.1 312.1,180.1 313.5,180.4 314.9,181.1 316.4,181.8 317.8,182.0 319.2,182.6 320.7,182.3 322.1,181.4 323.6,181.1 325.0,181.0 326.4,180.7 327.9,180.1 329.3,180.4 330.8,179.9 332.2,179.6 333.6,179.4 335.1,179.0 336.5,179.0 338.0,178.5 339.4,178.6 340.8,178.5 342.3,177.8 343.7,177.5 345.1,177.4 346.5,177.4 347.9,176.8" fill="none" stroke="#d2d2ff" stroke-width="5.6" stroke-linejoin="round" opacity="0.75"/>
<polyline points="279.1,179.4 280.5,180.0 282.0,180.5 283.4,180.7 284.8,181.2 286.3,181.5 287.7,181.6 289.2,182.2 290.6,182.2 292.0,182.1 293.5,182.0 294.9,181.9 296.4,181.6 297.8,181.6 299.2,181.3 300.7,181.8 302.1,181.2 303.6,182.1 305.0,182.0 306.4,182.9 307.9,183.2 309.3,183.5 310.7,184.2 312.1,184.0 313.5,184.6 314.9,185.2 316.4,185.1 317.8,185.0 319.2,185.7 320.7,185.2 322.1,184.1 323.6,183.7 325.0,183.1 326.4,182.6 327.9,182.4 329.3,181.6 330.8,181.5 332.2,180.8 333.6,180.6 335.1,180.7 336.5,180.1 338.0,180.2 339.4,180.4 340.8,180.4 342.3,180.4 343.7,180.5 345.1,181.2 346.5,181.7 347.9,181.7" fill="none" stroke="#ffcdd2" stroke-width="5.6" stroke-linejoin="round" opacity="0.75"/>
<rect x="267.4" y="164.1" width="92.3" height="45.4" fill="none" stroke="#2a2a2a" stroke-width="0.8"/>
<line x1="313.5" y1="164.1" x2="313.5" y2="209.5" stroke="#222" stroke-width="0.9"/>
<polyline points="279.1,175.3 280.5,175.5 282.0,175.6 283.4,175.7 284.8,175.8 286.3,176.1 287.7,176.0 289.2,176.4 290.6,176.8 292.0,176.7 293.5,177.1 294.9,176.9 296.4,176.7 297.8,176.6 299.2,176.6 300.7,176.9 302.1,177.0 303.6,177.0 305.0,177.6 306.4,177.9 307.9,178.4 309.3,178.7 310.7,179.1 312.1,180.1 313.5,180.4 314.9,181.1 316.4,181.8 317.8,182.0 319.2,182.6 320.7,182.3 322.1,181.4 323.6,181.1 325.0,181.0 326.4,180.7 327.9,180.1 329.3,180.4 330.8,179.9 332.2,179.6 333.6,179.4 335.1,179.0 336.5,179.0 338.0,178.5 339.4,178.6 340.8,178.5 342.3,177.8 343.7,177.5 345.1,177.4 346.5,177.4 347.9,176.8" fill="none" stroke="#1414f0" stroke-width="1.35" stroke-linejoin="round"/>
<polyline points="279.1,179.4 280.5,180.0 282.0,180.5 283.4,180.7 284.8,181.2 286.3,181.5 287.7,181.6 289.2,182.2 290.6,182.2 292.0,182.1 293.5,182.0 294.9,181.9 296.4,181.6 297.8,181.6 299.2,181.3 300.7,181.8 302.1,181.2 303.6,182.1 305.0,182.0 306.4,182.9 307.9,183.2 309.3,183.5 310.7,184.2 312.1,184.0 313.5,184.6 314.9,185.2 316.4,185.1 317.8,185.0 319.2,185.7 320.7,185.2 322.1,184.1 323.6,183.7 325.0,183.1 326.4,182.6 327.9,182.4 329.3,181.6 330.8,181.5 332.2,180.8 333.6,180.6 335.1,180.7 336.5,180.1 338.0,180.2 339.4,180.4 340.8,180.4 342.3,180.4 343.7,180.5 345.1,181.2 346.5,181.7 347.9,181.7" fill="none" stroke="#f2001c" stroke-width="1.35" stroke-linejoin="round"/>
<line x1="267.4" y1="186.8" x2="268.9" y2="186.8" stroke="#222" stroke-width="0.7"/>
<line x1="358.2" y1="186.8" x2="359.7" y2="186.8" stroke="#222" stroke-width="0.7"/>
<text x="264.90" y="164.40" font-size="9.5" text-anchor="middle" fill="#111" transform="rotate(-90 264.90 164.40)">0.02</text>
<text x="264.90" y="209.80" font-size="9.5" text-anchor="middle" fill="#111" transform="rotate(-90 264.90 209.80)">0</text>
<rect x="56.7" y="232.9" width="92.3" height="45.4" fill="none" stroke="#2a2a2a" stroke-width="0.8"/>
<line x1="102.8" y1="232.9" x2="102.8" y2="278.3" stroke="#222" stroke-width="0.9"/>
<polyline points="68.1,255.7 69.5,255.4 71.0,256.3 72.4,256.1 73.8,256.0 75.3,256.9 76.7,256.3 78.2,257.5 79.6,257.4 81.0,257.6 82.5,258.1 83.9,258.9 85.4,259.3 86.8,259.3 88.2,258.8 89.7,258.6 91.1,258.9 92.6,258.7 94.0,259.0 95.4,259.0 96.9,258.8 98.3,258.0 99.7,257.9 101.1,257.0 102.5,255.8 103.9,255.8 105.4,254.7 106.8,253.9 108.2,253.6 109.7,253.8 111.1,253.7 112.6,253.8 114.0,254.1 115.4,254.7 116.9,254.9 118.3,254.5 119.8,255.0 121.2,255.5 122.6,255.8 124.1,256.7 125.5,256.8 127.0,256.7 128.4,257.3 129.8,257.8 131.3,258.0 132.7,257.9 134.1,258.5 135.5,258.2 136.9,258.6" fill="none" stroke="#1414f0" stroke-width="4.3" stroke-linejoin="round" stroke-linecap="butt"/>
<polyline points="68.1,253.6 69.5,253.7 71.0,253.9 72.4,254.1 73.8,253.6 75.3,254.2 76.7,254.8 78.2,255.0 79.6,255.0 81.0,254.8 82.5,255.4 83.9,256.3 85.4,255.8 86.8,255.7 88.2,256.3 89.7,255.6 91.1,255.4 92.6,255.3 94.0,255.8 95.4,255.1 96.9,255.2 98.3,255.0 99.7,254.8 101.1,254.1 102.5,253.5 103.9,253.1 105.4,251.9 106.8,251.2 108.2,250.8 109.7,251.1 111.1,250.6 112.6,251.0 114.0,250.5 115.4,250.5 116.9,250.6 118.3,251.5 119.8,251.7 121.2,251.6 122.6,252.2 124.1,252.4 125.5,253.5 127.0,253.3 128.4,253.2 129.8,253.8 131.3,253.8 132.7,254.0 134.1,254.0 135.5,254.8 136.9,254.9" fill="none" stroke="#f2001c" stroke-width="4.3" stroke-linejoin="round" stroke-linecap="butt"/>
<line x1="56.7" y1="255.6" x2="58.2" y2="255.6" stroke="#222" stroke-width="0.7"/>
<line x1="147.5" y1="255.6" x2="149.0" y2="255.6" stroke="#222" stroke-width="0.7"/>
<text x="54.20" y="233.20" font-size="9.5" text-anchor="middle" fill="#111" transform="rotate(-90 54.20 233.20)">0.02</text>
<text x="54.20" y="278.60" font-size="9.5" text-anchor="middle" fill="#111" transform="rotate(-90 54.20 278.60)">0</text>
<polyline points="174.1,259.3 175.5,258.8 177.0,257.9 178.4,257.5 179.8,256.5 181.3,256.8 182.7,257.5 184.2,257.4 185.6,258.1 187.0,258.4 188.5,259.0 189.9,259.7 191.4,259.9 192.8,259.9 194.2,260.2 195.7,259.7 197.1,260.1 198.6,260.1 200.0,259.7 201.4,259.3 202.9,258.9 204.3,258.2 205.7,257.5 207.1,256.5 208.5,256.2 209.9,256.0 211.4,255.8 212.8,255.4 214.2,255.5 215.7,255.6 217.1,255.5 218.6,255.8 220.0,256.0 221.4,255.8 222.9,255.5 224.3,254.5 225.8,254.4 227.2,255.0 228.6,254.7 230.1,255.1 231.5,255.6 233.0,255.6 234.4,255.3 235.8,255.7 237.3,255.6 238.7,255.2 240.1,255.7 241.5,255.5 242.9,255.5" fill="none" stroke="#d2d2ff" stroke-width="5.6" stroke-linejoin="round" opacity="0.75"/>
<polyline points="174.1,255.1 175.5,255.5 177.0,255.6 178.4,255.6 179.8,255.6 181.3,256.4 182.7,256.8 184.2,257.1 185.6,257.5 187.0,257.7 188.5,257.9 189.9,258.6 191.4,259.1 192.8,258.5 194.2,258.7 195.7,258.0 197.1,257.9 198.6,257.6 200.0,258.3 201.4,258.1 202.9,258.1 204.3,257.7 205.7,256.9 207.1,256.7 208.5,256.5 209.9,255.9 211.4,256.2 212.8,255.5 214.2,255.1 215.7,255.7 217.1,255.4 218.6,256.1 220.0,256.0 221.4,255.7 222.9,255.1 224.3,254.9 225.8,254.4 227.2,254.3 228.6,255.0 230.1,254.6 231.5,255.0 233.0,254.8 234.4,255.4 235.8,255.4 237.3,255.3 238.7,255.6 240.1,255.7 241.5,256.0 242.9,256.0" fill="none" stroke="#ffcdd2" stroke-width="5.6" stroke-linejoin="round" opacity="0.75"/>
<rect x="162.4" y="232.9" width="92.3" height="45.4" fill="none" stroke="#2a2a2a" stroke-width="0.8"/>
<line x1="208.6" y1="232.9" x2="208.6" y2="278.3" stroke="#222" stroke-width="0.9"/>
<polyline points="174.1,259.3 175.5,258.8 177.0,257.9 178.4,257.5 179.8,256.5 181.3,256.8 182.7,257.5 184.2,257.4 185.6,258.1 187.0,258.4 188.5,259.0 189.9,259.7 191.4,259.9 192.8,259.9 194.2,260.2 195.7,259.7 197.1,260.1 198.6,260.1 200.0,259.7 201.4,259.3 202.9,258.9 204.3,258.2 205.7,257.5 207.1,256.5 208.5,256.2 209.9,256.0 211.4,255.8 212.8,255.4 214.2,255.5 215.7,255.6 217.1,255.5 218.6,255.8 220.0,256.0 221.4,255.8 222.9,255.5 224.3,254.5 225.8,254.4 227.2,255.0 228.6,254.7 230.1,255.1 231.5,255.6 233.0,255.6 234.4,255.3 235.8,255.7 237.3,255.6 238.7,255.2 240.1,255.7 241.5,255.5 242.9,255.5" fill="none" stroke="#1414f0" stroke-width="1.35" stroke-linejoin="round"/>
<polyline points="174.1,255.1 175.5,255.5 177.0,255.6 178.4,255.6 179.8,255.6 181.3,256.4 182.7,256.8 184.2,257.1 185.6,257.5 187.0,257.7 188.5,257.9 189.9,258.6 191.4,259.1 192.8,258.5 194.2,258.7 195.7,258.0 197.1,257.9 198.6,257.6 200.0,258.3 201.4,258.1 202.9,258.1 204.3,257.7 205.7,256.9 207.1,256.7 208.5,256.5 209.9,255.9 211.4,256.2 212.8,255.5 214.2,255.1 215.7,255.7 217.1,255.4 218.6,256.1 220.0,256.0 221.4,255.7 222.9,255.1 224.3,254.9 225.8,254.4 227.2,254.3 228.6,255.0 230.1,254.6 231.5,255.0 233.0,254.8 234.4,255.4 235.8,255.4 237.3,255.3 238.7,255.6 240.1,255.7 241.5,256.0 242.9,256.0" fill="none" stroke="#f2001c" stroke-width="1.35" stroke-linejoin="round"/>
<line x1="162.4" y1="255.6" x2="163.9" y2="255.6" stroke="#222" stroke-width="0.7"/>
<line x1="253.2" y1="255.6" x2="254.7" y2="255.6" stroke="#222" stroke-width="0.7"/>
<text x="159.90" y="233.20" font-size="9.5" text-anchor="middle" fill="#111" transform="rotate(-90 159.90 233.20)">0.04</text>
<text x="159.90" y="278.60" font-size="9.5" text-anchor="middle" fill="#111" transform="rotate(-90 159.90 278.60)">0</text>
<polyline points="279.1,246.2 280.5,246.4 282.0,246.4 283.4,247.0 284.8,247.0 286.3,247.8 287.7,248.4 289.2,249.4 290.6,250.0 292.0,249.9 293.5,249.4 294.9,249.6 296.4,249.6 297.8,249.1 299.2,248.6 300.7,248.4 302.1,247.8 303.6,248.0 305.0,248.4 306.4,248.3 307.9,248.4 309.3,249.0 310.7,249.0 312.1,249.2 313.5,249.3 314.9,249.4 316.4,249.2 317.8,248.9 319.2,249.0 320.7,249.0 322.1,248.9 323.6,249.1 325.0,248.8 326.4,248.5 327.9,247.6 329.3,246.8 330.8,246.1 332.2,246.7 333.6,246.6 335.1,246.4 336.5,247.0 338.0,246.7 339.4,246.4 340.8,246.3 342.3,246.0 343.7,246.8 345.1,247.4 346.5,247.8 347.9,248.4" fill="none" stroke="#d2d2ff" stroke-width="5.6" stroke-linejoin="round" opacity="0.75"/>
<polyline points="279.1,249.0 280.5,248.4 282.0,248.1 283.4,248.5 284.8,247.9 286.3,248.2 287.7,249.1 289.2,249.3 290.6,250.1 292.0,249.6 293.5,249.9 294.9,249.2 296.4,249.2 297.8,249.4 299.2,249.2 300.7,249.3 302.1,249.0 303.6,248.9 305.0,249.9 306.4,250.1 307.9,250.3 309.5,251.1 311.2,252.3 313.5,250.7 314.9,250.4 316.4,249.8 317.8,249.3 319.2,248.4 320.7,248.3 322.1,248.0 323.6,247.5 325.0,247.5 326.4,246.9 327.9,247.0 329.3,246.8 330.8,246.2 332.2,246.6 333.6,247.7 335.1,248.3 336.5,248.8 338.0,249.1 339.4,250.0 340.8,250.1 342.3,251.1 343.7,251.6 345.1,252.2 346.5,252.8 347.9,253.4" fill="none" stroke="#ffcdd2" stroke-width="5.6" stroke-linejoin="round" opacity="0.75"/>
<rect x="267.4" y="232.9" width="92.3" height="45.4" fill="none" stroke="#2a2a2a" stroke-width="0.8"/>
<line x1="313.5" y1="232.9" x2="313.5" y2="278.3" stroke="#222" stroke-width="0.9"/>
<polyline points="279.1,246.2 280.5,246.4 282.0,246.4 283.4,247.0 284.8,247.0 286.3,247.8 287.7,248.4 289.2,249.4 290.6,250.0 292.0,249.9 293.5,249.4 294.9,249.6 296.4,249.6 297.8,249.1 299.2,248.6 300.7,248.4 302.1,247.8 303.6,248.0 305.0,248.4 306.4,248.3 307.9,248.4 309.3,249.0 310.7,249.0 312.1,249.2 313.5,249.3 314.9,249.4 316.4,249.2 317.8,248.9 319.2,249.0 320.7,249.0 322.1,248.9 323.6,249.1 325.0,248.8 326.4,248.5 327.9,247.6 329.3,246.8 330.8,246.1 332.2,246.7 333.6,246.6 335.1,246.4 336.5,247.0 338.0,246.7 339.4,246.4 340.8,246.3 342.3,246.0 343.7,246.8 345.1,247.4 346.5,247.8 347.9,248.4" fill="none" stroke="#1414f0" stroke-width="1.35" stroke-linejoin="round"/>
<polyline points="279.1,249.0 280.5,248.4 282.0,248.1 283.4,248.5 284.8,247.9 286.3,248.2 287.7,249.1 289.2,249.3 290.6,250.1 292.0,249.6 293.5,249.9 294.9,249.2 296.4,249.2 297.8,249.4 299.2,249.2 300.7,249.3 302.1,249.0 303.6,248.9 305.0,249.9 306.4,250.1 307.9,250.3 309.5,251.1 311.2,252.3 313.5,250.7 314.9,250.4 316.4,249.8 317.8,249.3 319.2,248.4 320.7,248.3 322.1,248.0 323.6,247.5 325.0,247.5 326.4,246.9 327.9,247.0 329.3,246.8 330.8,246.2 332.2,246.6 333.6,247.7 335.1,248.3 336.5,248.8 338.0,249.1 339.4,250.0 340.8,250.1 342.3,251.1 343.7,251.6 345.1,252.2 346.5,252.8 347.9,253.4" fill="none" stroke="#f2001c" stroke-width="1.35" stroke-linejoin="round"/>
<line x1="267.4" y1="255.6" x2="268.9" y2="255.6" stroke="#222" stroke-width="0.7"/>
<line x1="358.2" y1="255.6" x2="359.7" y2="255.6" stroke="#222" stroke-width="0.7"/>
<text x="264.90" y="233.20" font-size="9.5" text-anchor="middle" fill="#111" transform="rotate(-90 264.90 233.20)">0.02</text>
<text x="264.90" y="278.60" font-size="9.5" text-anchor="middle" fill="#111" transform="rotate(-90 264.90 278.60)">0</text>
<rect x="56.7" y="301.5" width="92.3" height="45.4" fill="none" stroke="#2a2a2a" stroke-width="0.8"/>
<line x1="102.8" y1="301.5" x2="102.8" y2="346.9" stroke="#222" stroke-width="0.9"/>
<polyline points="68.1,324.8 69.5,324.1 71.0,324.3 72.4,323.9 73.8,323.3 75.3,323.0 76.7,323.6 78.2,324.0 79.6,324.7 81.0,324.4 82.5,324.1 83.9,324.1 85.4,323.5 86.8,324.0 88.2,324.0 89.7,323.6 91.1,323.9 92.6,324.7 94.0,326.0 95.4,326.1 96.9,326.8 98.3,327.1 99.7,326.9 101.1,326.1 102.5,326.1 103.9,326.5 105.4,325.9 106.8,326.1 108.2,326.0 109.7,325.7 111.1,325.4 112.6,325.4 114.0,325.0 115.4,324.9 116.9,323.7 118.3,324.2 119.8,323.3 121.2,323.7 122.6,324.1 124.1,324.6 125.5,325.5 127.0,325.2 128.4,325.7 129.8,326.3 131.3,325.9 132.7,325.4 134.1,326.0 135.5,325.7 136.9,325.5" fill="none" stroke="#1414f0" stroke-width="4.3" stroke-linejoin="round" stroke-linecap="butt"/>
<polyline points="68.1,324.3 69.5,324.1 71.0,323.8 72.4,324.5 73.8,324.1 75.3,324.0 76.7,324.0 78.2,324.2 79.6,324.3 81.0,323.8 82.5,324.2 83.9,324.0 85.4,323.1 86.8,322.8 88.2,323.0 89.7,323.8 91.1,323.6 92.6,324.3 94.0,324.7 95.4,324.6 96.9,324.8 98.3,324.0 99.7,323.7 101.1,324.3 102.5,323.8 103.9,323.9 105.4,323.5 106.8,323.5 108.2,323.3 109.7,323.6 111.1,322.7 112.6,323.0 114.0,322.8 115.4,322.8 116.9,322.4 118.3,321.2 119.8,320.7 121.2,321.2 122.6,321.8 124.1,322.7 125.5,322.9 127.0,323.2 128.4,322.7 129.8,323.0 131.3,322.8 132.7,322.9 134.1,322.5 135.5,322.7 136.9,322.0" fill="none" stroke="#f2001c" stroke-width="4.3" stroke-linejoin="round" stroke-linecap="butt"/>
<line x1="56.7" y1="324.2" x2="58.2" y2="324.2" stroke="#222" stroke-width="0.7"/>
<line x1="147.5" y1="324.2" x2="149.0" y2="324.2" stroke="#222" stroke-width="0.7"/>
<text x="54.20" y="301.80" font-size="9.5" text-anchor="middle" fill="#111" transform="rotate(-90 54.20 301.80)">0.02</text>
<text x="54.20" y="347.20" font-size="9.5" text-anchor="middle" fill="#111" transform="rotate(-90 54.20 347.20)">0</text>
<polyline points="174.1,327.4 175.5,327.7 177.0,327.2 178.4,327.3 179.8,327.4 181.3,327.9 182.7,327.7 184.2,328.0 185.6,328.0 187.0,327.8 188.5,328.1 189.9,327.9 191.4,327.9 192.8,327.7 194.2,327.6 195.7,327.4 197.1,327.4 199.0,327.2 200.9,327.4 202.3,323.7 203.6,319.9 205.5,322.1 207.0,322.4 208.5,322.6 209.9,322.8 211.4,322.4 212.8,323.1 214.2,322.9 215.7,323.0 217.1,322.8 218.6,322.9 220.0,323.1 221.4,323.1 222.9,323.6 224.3,324.4 225.8,325.6 227.2,326.3 228.6,326.6 230.1,326.8 231.5,327.4 233.0,327.7 234.4,327.3 235.8,327.0 237.3,327.2 238.7,326.4 240.1,326.5 241.5,325.6 242.9,325.5" fill="none" stroke="#d2d2ff" stroke-width="5.6" stroke-linejoin="round" opacity="0.75"/>
<polyline points="174.1,324.6 175.5,324.7 177.0,325.1 178.4,325.5 179.8,325.4 181.3,325.5 182.7,325.9 184.2,326.5 185.6,326.5 187.0,326.7 188.5,326.5 189.9,326.1 191.4,326.3 192.8,326.2 194.2,326.2 195.7,326.6 197.1,326.1 198.6,326.1 200.0,327.0 201.4,326.8 202.9,326.9 204.3,326.7 205.7,326.6 207.1,326.8 208.5,326.2 209.9,326.3 211.4,326.7 212.8,326.9 214.2,327.2 215.7,327.4 217.1,327.2 218.6,327.2 220.0,327.6 221.4,327.5 222.9,326.6 224.3,326.7 225.8,326.4 227.2,326.5 228.6,326.2 230.1,326.7 231.5,326.7 233.0,326.6 234.4,327.1 235.8,327.1 237.3,327.3 238.7,327.5 240.1,327.7 241.5,327.9 242.9,328.1" fill="none" stroke="#ffcdd2" stroke-width="5.6" stroke-linejoin="round" opacity="0.75"/>
<rect x="162.4" y="301.5" width="92.3" height="45.4" fill="none" stroke="#2a2a2a" stroke-width="0.8"/>
<line x1="208.6" y1="301.5" x2="208.6" y2="346.9" stroke="#222" stroke-width="0.9"/>
<polyline points="174.1,327.4 175.5,327.7 177.0,327.2 178.4,327.3 179.8,327.4 181.3,327.9 182.7,327.7 184.2,328.0 185.6,328.0 187.0,327.8 188.5,328.1 189.9,327.9 191.4,327.9 192.8,327.7 194.2,327.6 195.7,327.4 197.1,327.4 199.0,327.2 200.9,327.4 202.3,323.7 203.6,319.9 205.5,322.1 207.0,322.4 208.5,322.6 209.9,322.8 211.4,322.4 212.8,323.1 214.2,322.9 215.7,323.0 217.1,322.8 218.6,322.9 220.0,323.1 221.4,323.1 222.9,323.6 224.3,324.4 225.8,325.6 227.2,326.3 228.6,326.6 230.1,326.8 231.5,327.4 233.0,327.7 234.4,327.3 235.8,327.0 237.3,327.2 238.7,326.4 240.1,326.5 241.5,325.6 242.9,325.5" fill="none" stroke="#1414f0" stroke-width="1.35" stroke-linejoin="round"/>
<polyline points="174.1,324.6 175.5,324.7 177.0,325.1 178.4,325.5 179.8,325.4 181.3,325.5 182.7,325.9 184.2,326.5 185.6,326.5 187.0,326.7 188.5,326.5 189.9,326.1 191.4,326.3 192.8,326.2 194.2,326.2 195.7,326.6 197.1,326.1 198.6,326.1 200.0,327.0 201.4,326.8 202.9,326.9 204.3,326.7 205.7,326.6 207.1,326.8 208.5,326.2 209.9,326.3 211.4,326.7 212.8,326.9 214.2,327.2 215.7,327.4 217.1,327.2 218.6,327.2 220.0,327.6 221.4,327.5 222.9,326.6 224.3,326.7 225.8,326.4 227.2,326.5 228.6,326.2 230.1,326.7 231.5,326.7 233.0,326.6 234.4,327.1 235.8,327.1 237.3,327.3 238.7,327.5 240.1,327.7 241.5,327.9 242.9,328.1" fill="none" stroke="#f2001c" stroke-width="1.35" stroke-linejoin="round"/>
<line x1="162.4" y1="324.2" x2="163.9" y2="324.2" stroke="#222" stroke-width="0.7"/>
<line x1="253.2" y1="324.2" x2="254.7" y2="324.2" stroke="#222" stroke-width="0.7"/>
<text x="159.90" y="301.80" font-size="9.5" text-anchor="middle" fill="#111" transform="rotate(-90 159.90 301.80)">0.04</text>
<text x="159.90" y="347.20" font-size="9.5" text-anchor="middle" fill="#111" transform="rotate(-90 159.90 347.20)">0</text>
<polyline points="279.1,311.8 280.5,312.6 282.0,313.7 283.4,314.4 284.8,314.8 286.3,315.1 287.7,315.1 289.2,314.9 290.6,314.4 292.0,315.3 293.5,315.1 294.9,315.8 296.4,315.9 297.8,316.3 299.2,316.4 300.7,316.8 302.1,317.0 303.6,316.9 305.0,316.7 306.4,316.5 307.9,316.0 309.3,316.5 310.7,317.2 312.1,317.5 313.5,318.0 314.9,318.1 316.4,318.8 317.8,319.0 319.2,318.9 320.7,318.8 322.1,318.3 323.6,317.9 325.0,317.6 326.4,318.2 327.9,318.8 329.3,319.6 330.8,319.8 332.2,319.2 333.6,319.0 335.1,318.7 336.5,318.3 338.0,317.7 339.4,317.6 340.8,317.5 342.3,317.0 343.7,316.2 345.1,315.8 346.5,314.9 347.9,314.2" fill="none" stroke="#d2d2ff" stroke-width="5.6" stroke-linejoin="round" opacity="0.75"/>
<polyline points="279.1,316.7 280.5,316.9 282.0,317.3 283.4,318.0 284.8,317.9 286.3,318.7 287.7,318.9 289.2,319.9 290.6,320.6 292.0,320.2 293.5,320.1 294.9,319.8 296.4,319.1 297.8,318.8 299.2,319.3 300.7,318.8 302.1,318.8 303.6,319.3 305.0,319.5 306.4,319.6 307.9,319.6 309.3,319.5 310.7,319.7 312.1,320.0 313.5,320.7 314.9,320.2 316.4,320.1 317.8,320.0 319.2,320.1 320.7,319.3 322.1,319.0 323.6,318.3 325.0,317.9 326.4,318.1 327.9,317.3 329.3,317.6 330.8,317.3 332.2,317.4 333.6,317.6 335.1,317.9 336.5,318.0 338.0,317.6 339.4,317.6 340.8,317.4 342.3,317.5 343.7,318.2 345.1,318.2 346.5,318.3 347.9,319.0" fill="none" stroke="#ffcdd2" stroke-width="5.6" stroke-linejoin="round" opacity="0.75"/>
<rect x="267.4" y="301.5" width="92.3" height="45.4" fill="none" stroke="#2a2a2a" stroke-width="0.8"/>
<line x1="313.5" y1="301.5" x2="313.5" y2="346.9" stroke="#222" stroke-width="0.9"/>
<polyline points="279.1,311.8 280.5,312.6 282.0,313.7 283.4,314.4 284.8,314.8 286.3,315.1 287.7,315.1 289.2,314.9 290.6,314.4 292.0,315.3 293.5,315.1 294.9,315.8 296.4,315.9 297.8,316.3 299.2,316.4 300.7,316.8 302.1,317.0 303.6,316.9 305.0,316.7 306.4,316.5 307.9,316.0 309.3,316.5 310.7,317.2 312.1,317.5 313.5,318.0 314.9,318.1 316.4,318.8 317.8,319.0 319.2,318.9 320.7,318.8 322.1,318.3 323.6,317.9 325.0,317.6 326.4,318.2 327.9,318.8 329.3,319.6 330.8,319.8 332.2,319.2 333.6,319.0 335.1,318.7 336.5,318.3 338.0,317.7 339.4,317.6 340.8,317.5 342.3,317.0 343.7,316.2 345.1,315.8 346.5,314.9 347.9,314.2" fill="none" stroke="#1414f0" stroke-width="1.35" stroke-linejoin="round"/>
<polyline points="279.1,316.7 280.5,316.9 282.0,317.3 283.4,318.0 284.8,317.9 286.3,318.7 287.7,318.9 289.2,319.9 290.6,320.6 292.0,320.2 293.5,320.1 294.9,319.8 296.4,319.1 297.8,318.8 299.2,319.3 300.7,318.8 302.1,318.8 303.6,319.3 305.0,319.5 306.4,319.6 307.9,319.6 309.3,319.5 310.7,319.7 312.1,320.0 313.5,320.7 314.9,320.2 316.4,320.1 317.8,320.0 319.2,320.1 320.7,319.3 322.1,319.0 323.6,318.3 325.0,317.9 326.4,318.1 327.9,317.3 329.3,317.6 330.8,317.3 332.2,317.4 333.6,317.6 335.1,317.9 336.5,318.0 338.0,317.6 339.4,317.6 340.8,317.4 342.3,317.5 343.7,318.2 345.1,318.2 346.5,318.3 347.9,319.0" fill="none" stroke="#f2001c" stroke-width="1.35" stroke-linejoin="round"/>
<line x1="267.4" y1="324.2" x2="268.9" y2="324.2" stroke="#222" stroke-width="0.7"/>
<line x1="358.2" y1="324.2" x2="359.7" y2="324.2" stroke="#222" stroke-width="0.7"/>
<text x="264.90" y="301.80" font-size="9.5" text-anchor="middle" fill="#111" transform="rotate(-90 264.90 301.80)">0.02</text>
<text x="264.90" y="347.20" font-size="9.5" text-anchor="middle" fill="#111" transform="rotate(-90 264.90 347.20)">0</text>
<rect x="56.7" y="370.1" width="92.3" height="45.4" fill="none" stroke="#2a2a2a" stroke-width="0.8"/>
<line x1="102.8" y1="370.1" x2="102.8" y2="415.5" stroke="#222" stroke-width="0.9"/>
<polyline points="68.1,393.9 69.5,393.5 71.0,393.9 72.4,394.4 73.8,394.3 75.3,394.8 76.7,394.0 78.2,394.2 79.6,394.6 81.0,395.0 82.5,394.6 83.9,395.4 85.4,395.2 86.8,394.7 88.2,394.6 89.7,395.3 91.1,395.1 92.6,395.2 94.0,394.0 95.4,394.3 96.9,394.0 98.3,393.2 99.7,392.6 101.1,391.7 102.5,390.5 103.9,391.2 105.4,391.1 106.8,391.2 108.2,391.1 109.7,391.4 111.1,392.0 112.6,392.1 114.0,391.9 115.4,391.9 116.9,392.2 118.3,392.3 119.8,393.0 121.2,392.9 122.6,393.8 124.1,393.7 125.5,394.7 127.0,394.1 128.4,394.3 129.8,394.1 131.3,393.7 132.7,393.9 134.1,393.2 135.5,393.3 136.9,393.0" fill="none" stroke="#1414f0" stroke-width="4.3" stroke-linejoin="round" stroke-linecap="butt"/>
<polyline points="68.1,391.2 69.5,391.6 71.0,390.7 72.4,390.9 73.8,391.4 75.3,391.2 76.7,390.4 78.2,390.4 79.6,390.6 81.0,390.4 82.5,389.9 83.9,390.9 85.4,390.2 86.8,390.7 88.2,390.9 89.7,390.8 91.1,391.3 92.6,390.9 94.0,391.6 95.4,391.3 96.9,392.2 98.3,390.7 99.7,390.2 101.1,389.7 102.5,388.7 104.3,387.8 106.3,389.9 108.2,391.2 109.7,391.5 111.1,392.7 112.6,392.8 114.0,393.6 115.4,393.0 116.9,392.8 118.3,393.0 119.8,392.2 121.2,392.7 122.6,392.5 124.1,391.7 125.5,391.9 127.0,391.3 128.4,391.7 129.8,391.5 131.3,391.2 132.7,390.7 134.1,391.2 135.5,390.6 136.9,391.0" fill="none" stroke="#f2001c" stroke-width="4.3" stroke-linejoin="round" stroke-linecap="butt"/>
<line x1="56.7" y1="392.8" x2="58.2" y2="392.8" stroke="#222" stroke-width="0.7"/>
<line x1="147.5" y1="392.8" x2="149.0" y2="392.8" stroke="#222" stroke-width="0.7"/>
<text x="54.20" y="370.40" font-size="9.5" text-anchor="middle" fill="#111" transform="rotate(-90 54.20 370.40)">0.02</text>
<text x="54.20" y="415.80" font-size="9.5" text-anchor="middle" fill="#111" transform="rotate(-90 54.20 415.80)">0</text>
<polyline points="174.1,396.5 175.7,396.4 177.3,397.1 178.9,397.0 180.8,396.9 182.7,396.2 184.2,396.7 185.8,397.5 187.3,398.1 189.0,398.1 190.8,397.6 192.6,397.5 194.1,396.9 195.6,396.7 197.1,396.1 198.6,395.3 200.2,395.1 201.7,389.2 203.2,380.8 205.0,379.9 207.0,381.9 208.5,383.9 210.4,384.9 212.3,386.1 214.0,386.2 215.8,386.9 217.6,387.0 219.3,387.6 221.1,388.1 222.9,388.5 225.2,390.7 227.4,394.1 229.7,395.7 231.2,395.2 232.7,395.1 234.2,394.9 235.8,395.1 237.3,395.2 238.8,395.0 240.2,394.7 241.5,394.6 242.9,394.5" fill="none" stroke="#d2d2ff" stroke-width="5.6" stroke-linejoin="round" opacity="0.75"/>
<polyline points="174.1,391.4 175.8,391.9 177.4,392.6 179.2,392.5 181.0,391.7 182.7,391.2 184.2,391.2 185.8,391.0 187.3,391.2 188.8,391.1 190.3,390.6 191.8,389.9 193.3,389.3 195.2,389.8 197.1,390.3 199.0,391.2 200.9,392.6 202.4,392.2 203.9,392.5 205.5,392.3 207.0,392.8 208.5,394.2 210.4,394.5 212.3,395.7 214.2,395.8 216.1,395.5 218.0,396.5 220.0,397.2 221.7,397.2 223.4,398.0 225.2,398.2 227.0,398.0 228.9,397.2 230.2,396.7 231.5,395.6 233.0,395.4 234.4,395.4 235.8,395.2 237.3,394.9 238.7,395.2 240.1,395.2 241.5,394.8 242.9,395.0" fill="none" stroke="#ffcdd2" stroke-width="5.6" stroke-linejoin="round" opacity="0.75"/>
<rect x="162.4" y="370.1" width="92.3" height="45.4" fill="none" stroke="#2a2a2a" stroke-width="0.8"/>
<line x1="208.6" y1="370.1" x2="208.6" y2="415.5" stroke="#222" stroke-width="0.9"/>
<polyline points="174.1,396.5 175.7,396.4 177.3,397.1 178.9,397.0 180.8,396.9 182.7,396.2 184.2,396.7 185.8,397.5 187.3,398.1 189.0,398.1 190.8,397.6 192.6,397.5 194.1,396.9 195.6,396.7 197.1,396.1 198.6,395.3 200.2,395.1 201.7,389.2 203.2,380.8 205.0,379.9 207.0,381.9 208.5,383.9 210.4,384.9 212.3,386.1 214.0,386.2 215.8,386.9 217.6,387.0 219.3,387.6 221.1,388.1 222.9,388.5 225.2,390.7 227.4,394.1 229.7,395.7 231.2,395.2 232.7,395.1 234.2,394.9 235.8,395.1 237.3,395.2 238.8,395.0 240.2,394.7 241.5,394.6 242.9,394.5" fill="none" stroke="#1414f0" stroke-width="1.35" stroke-linejoin="round"/>
<polyline points="174.1,391.4 175.8,391.9 177.4,392.6 179.2,392.5 181.0,391.7 182.7,391.2 184.2,391.2 185.8,391.0 187.3,391.2 188.8,391.1 190.3,390.6 191.8,389.9 193.3,389.3 195.2,389.8 197.1,390.3 199.0,391.2 200.9,392.6 202.4,392.2 203.9,392.5 205.5,392.3 207.0,392.8 208.5,394.2 210.4,394.5 212.3,395.7 214.2,395.8 216.1,395.5 218.0,396.5 220.0,397.2 221.7,397.2 223.4,398.0 225.2,398.2 227.0,398.0 228.9,397.2 230.2,396.7 231.5,395.6 233.0,395.4 234.4,395.4 235.8,395.2 237.3,394.9 238.7,395.2 240.1,395.2 241.5,394.8 242.9,395.0" fill="none" stroke="#f2001c" stroke-width="1.35" stroke-linejoin="round"/>
<line x1="162.4" y1="392.8" x2="163.9" y2="392.8" stroke="#222" stroke-width="0.7"/>
<line x1="253.2" y1="392.8" x2="254.7" y2="392.8" stroke="#222" stroke-width="0.7"/>
<text x="159.90" y="370.40" font-size="9.5" text-anchor="middle" fill="#111" transform="rotate(-90 159.90 370.40)">0.04</text>
<text x="159.90" y="415.80" font-size="9.5" text-anchor="middle" fill="#111" transform="rotate(-90 159.90 415.80)">0</text>
<polyline points="279.1,381.7 280.5,381.7 281.8,381.4 283.2,381.3 284.7,379.7 286.2,378.4 287.7,378.1 289.2,378.0 290.8,378.2 292.7,379.6 294.5,381.0 296.3,381.3 298.1,381.3 299.8,381.9 301.4,382.0 302.9,382.4 304.4,382.7 305.9,383.3 307.8,385.8 309.7,388.6 311.6,390.3 313.5,391.7 314.9,391.5 316.4,392.1 317.8,391.4 319.2,391.8 320.7,391.7 322.1,391.1 323.6,391.2 325.0,390.9 326.4,390.5 327.9,389.7 329.3,389.2 330.8,388.9 332.7,388.0 334.7,387.5 336.2,387.6 337.7,387.7 339.2,388.1 340.8,387.6 342.3,387.2 343.8,387.2 345.2,387.1 346.5,387.2 347.9,387.7" fill="none" stroke="#d2d2ff" stroke-width="5.6" stroke-linejoin="round" opacity="0.75"/>
<polyline points="279.1,387.0 280.5,386.5 282.0,386.6 283.4,386.4 284.8,386.6 286.6,385.9 288.3,385.3 290.0,384.2 291.5,384.6 293.0,384.8 294.5,384.4 296.1,384.3 297.6,383.7 299.8,382.3 301.4,383.1 302.9,383.6 304.4,383.6 305.9,383.9 307.8,386.6 309.7,388.7 311.6,390.6 313.5,391.9 314.9,391.6 316.4,391.4 317.8,391.9 319.2,391.4 320.7,391.1 322.1,391.0 323.6,391.4 325.0,391.1 326.4,391.4 327.9,391.4 329.3,391.4 330.8,391.7 332.3,391.2 333.9,391.2 335.5,391.1 337.3,390.2 339.2,389.3 340.8,389.1 342.3,389.1 343.8,388.6 345.2,388.4 346.5,388.2 347.9,388.2" fill="none" stroke="#ffcdd2" stroke-width="5.6" stroke-linejoin="round" opacity="0.75"/>
<rect x="267.4" y="370.1" width="92.3" height="45.4" fill="none" stroke="#2a2a2a" stroke-width="0.8"/>
<line x1="313.5" y1="370.1" x2="313.5" y2="415.5" stroke="#222" stroke-width="0.9"/>
<polyline points="279.1,381.7 280.5,381.7 281.8,381.4 283.2,381.3 284.7,379.7 286.2,378.4 287.7,378.1 289.2,378.0 290.8,378.2 292.7,379.6 294.5,381.0 296.3,381.3 298.1,381.3 299.8,381.9 301.4,382.0 302.9,382.4 304.4,382.7 305.9,383.3 307.8,385.8 309.7,388.6 311.6,390.3 313.5,391.7 314.9,391.5 316.4,392.1 317.8,391.4 319.2,391.8 320.7,391.7 322.1,391.1 323.6,391.2 325.0,390.9 326.4,390.5 327.9,389.7 329.3,389.2 330.8,388.9 332.7,388.0 334.7,387.5 336.2,387.6 337.7,387.7 339.2,388.1 340.8,387.6 342.3,387.2 343.8,387.2 345.2,387.1 346.5,387.2 347.9,387.7" fill="none" stroke="#1414f0" stroke-width="1.35" stroke-linejoin="round"/>
<polyline points="279.1,387.0 280.5,386.5 282.0,386.6 283.4,386.4 284.8,386.6 286.6,385.9 288.3,385.3 290.0,384.2 291.5,384.6 293.0,384.8 294.5,384.4 296.1,384.3 297.6,383.7 299.8,382.3 301.4,383.1 302.9,383.6 304.4,383.6 305.9,383.9 307.8,386.6 309.7,388.7 311.6,390.6 313.5,391.9 314.9,391.6 316.4,391.4 317.8,391.9 319.2,391.4 320.7,391.1 322.1,391.0 323.6,391.4 325.0,391.1 326.4,391.4 327.9,391.4 329.3,391.4 330.8,391.7 332.3,391.2 333.9,391.2 335.5,391.1 337.3,390.2 339.2,389.3 340.8,389.1 342.3,389.1 343.8,388.6 345.2,388.4 346.5,388.2 347.9,388.2" fill="none" stroke="#f2001c" stroke-width="1.35" stroke-linejoin="round"/>
<line x1="267.4" y1="392.8" x2="268.9" y2="392.8" stroke="#222" stroke-width="0.7"/>
<line x1="358.2" y1="392.8" x2="359.7" y2="392.8" stroke="#222" stroke-width="0.7"/>
<text x="264.90" y="370.40" font-size="9.5" text-anchor="middle" fill="#111" transform="rotate(-90 264.90 370.40)">0.02</text>
<text x="264.90" y="415.80" font-size="9.5" text-anchor="middle" fill="#111" transform="rotate(-90 264.90 415.80)">0</text>
<rect x="56.7" y="438.8" width="92.3" height="45.4" fill="none" stroke="#2a2a2a" stroke-width="0.8"/>
<line x1="102.8" y1="438.8" x2="102.8" y2="484.2" stroke="#222" stroke-width="0.9"/>
<polyline points="68.1,464.1 69.5,464.4 71.0,463.6 72.4,463.8 73.8,464.0 75.3,463.7 76.7,463.7 78.2,464.5 79.6,464.2 81.0,464.6 82.5,464.9 83.9,464.4 85.4,464.7 86.8,463.8 88.2,464.4 89.7,463.4 91.1,463.7 92.6,463.5 94.0,464.0 95.4,463.7 96.9,463.5 98.3,462.5 99.7,461.9 101.1,462.1 102.5,461.3 103.9,460.7 105.4,460.6 106.8,460.8 108.2,460.5 109.7,460.7 111.1,460.9 112.6,461.4 114.0,461.0 115.4,461.6 116.9,461.2 118.3,461.5 119.8,460.8 121.2,460.6 122.6,461.0 124.1,461.1 125.5,461.6 127.0,461.7 128.4,461.8 129.8,462.4 131.3,463.3 132.7,463.3 134.1,462.7 135.5,462.0 136.9,462.0" fill="none" stroke="#1414f0" stroke-width="4.3" stroke-linejoin="round" stroke-linecap="butt"/>
<polyline points="68.1,459.4 69.5,459.6 71.0,460.5 72.4,460.5 73.8,461.2 75.3,461.9 76.7,461.2 78.2,461.6 79.6,462.1 81.0,461.4 82.5,461.2 83.9,461.8 85.4,461.5 86.8,460.7 88.2,460.3 89.7,460.9 91.1,459.9 92.6,460.1 94.0,460.1 95.4,460.2 96.9,460.3 98.5,460.2 100.2,459.5 102.5,456.9 104.0,456.3 105.5,455.3 106.9,455.5 108.2,455.8 109.7,456.1 111.1,457.2 112.6,457.3 114.0,457.2 115.4,457.5 116.9,456.4 118.3,456.5 119.8,455.9 121.2,456.3 122.6,456.8 124.1,457.7 125.5,458.2 127.0,458.8 128.4,459.3 129.8,459.9 131.3,460.2 132.7,460.4 134.1,461.0 135.5,460.7 136.9,460.9" fill="none" stroke="#f2001c" stroke-width="4.3" stroke-linejoin="round" stroke-linecap="butt"/>
<line x1="56.7" y1="461.5" x2="58.2" y2="461.5" stroke="#222" stroke-width="0.7"/>
<line x1="147.5" y1="461.5" x2="149.0" y2="461.5" stroke="#222" stroke-width="0.7"/>
<text x="54.20" y="439.10" font-size="9.5" text-anchor="middle" fill="#111" transform="rotate(-90 54.20 439.10)">0.02</text>
<text x="54.20" y="484.50" font-size="9.5" text-anchor="middle" fill="#111" transform="rotate(-90 54.20 484.50)">0</text>
<polyline points="174.1,465.9 175.5,465.8 176.8,465.6 178.2,465.1 179.7,464.5 181.2,464.7 182.7,464.1 184.5,464.4 186.3,464.6 188.0,465.1 189.8,464.7 191.6,464.7 193.3,464.4 194.8,464.3 196.4,464.2 197.9,464.1 199.4,463.8 200.9,463.9 202.4,462.4 203.9,461.4 205.5,458.9 207.7,460.5 209.2,458.9 210.8,457.4 212.3,456.8 213.8,456.6 215.3,455.8 216.9,456.0 218.4,456.1 220.0,455.7 221.8,456.0 223.6,456.6 225.5,458.4 227.4,459.7 228.8,460.1 230.2,460.5 231.5,461.0 232.9,461.3 234.3,461.3 235.8,461.4 237.3,461.2 238.8,460.6 240.2,461.6 241.5,461.8 242.9,462.8" fill="none" stroke="#d2d2ff" stroke-width="5.6" stroke-linejoin="round" opacity="0.75"/>
<polyline points="174.1,461.9 175.5,461.9 177.0,461.5 178.4,461.9 179.8,461.5 181.3,461.6 182.7,461.8 184.2,461.5 185.6,461.7 187.0,461.6 188.5,461.3 189.9,461.2 191.4,461.0 192.8,460.6 194.2,460.8 195.7,460.2 197.1,460.2 198.9,459.7 200.6,458.8 202.3,460.3 203.9,462.0 205.5,462.5 207.0,462.3 208.5,462.8 209.9,462.7 211.4,463.0 212.8,463.1 214.2,462.8 215.7,462.5 217.1,462.8 218.6,462.5 220.0,462.6 221.4,462.3 222.9,462.5 224.3,462.5 225.8,462.1 227.2,462.0 228.6,461.8 230.1,461.5 231.5,461.1 232.9,461.8 234.3,461.7 235.8,461.8 237.3,460.8 238.8,459.7 240.2,459.6 241.5,460.3 242.9,460.0" fill="none" stroke="#ffcdd2" stroke-width="5.6" stroke-linejoin="round" opacity="0.75"/>
<rect x="162.4" y="438.8" width="92.3" height="45.4" fill="none" stroke="#2a2a2a" stroke-width="0.8"/>
<line x1="208.6" y1="438.8" x2="208.6" y2="484.2" stroke="#222" stroke-width="0.9"/>
<polyline points="174.1,465.9 175.5,465.8 176.8,465.6 178.2,465.1 179.7,464.5 181.2,464.7 182.7,464.1 184.5,464.4 186.3,464.6 188.0,465.1 189.8,464.7 191.6,464.7 193.3,464.4 194.8,464.3 196.4,464.2 197.9,464.1 199.4,463.8 200.9,463.9 202.4,462.4 203.9,461.4 205.5,458.9 207.7,460.5 209.2,458.9 210.8,457.4 212.3,456.8 213.8,456.6 215.3,455.8 216.9,456.0 218.4,456.1 220.0,455.7 221.8,456.0 223.6,456.6 225.5,458.4 227.4,459.7 228.8,460.1 230.2,460.5 231.5,461.0 232.9,461.3 234.3,461.3 235.8,461.4 237.3,461.2 238.8,460.6 240.2,461.6 241.5,461.8 242.9,462.8" fill="none" stroke="#1414f0" stroke-width="1.35" stroke-linejoin="round"/>
<polyline points="174.1,461.9 175.5,461.9 177.0,461.5 178.4,461.9 179.8,461.5 181.3,461.6 182.7,461.8 184.2,461.5 185.6,461.7 187.0,461.6 188.5,461.3 189.9,461.2 191.4,461.0 192.8,460.6 194.2,460.8 195.7,460.2 197.1,460.2 198.9,459.7 200.6,458.8 202.3,460.3 203.9,462.0 205.5,462.5 207.0,462.3 208.5,462.8 209.9,462.7 211.4,463.0 212.8,463.1 214.2,462.8 215.7,462.5 217.1,462.8 218.6,462.5 220.0,462.6 221.4,462.3 222.9,462.5 224.3,462.5 225.8,462.1 227.2,462.0 228.6,461.8 230.1,461.5 231.5,461.1 232.9,461.8 234.3,461.7 235.8,461.8 237.3,460.8 238.8,459.7 240.2,459.6 241.5,460.3 242.9,460.0" fill="none" stroke="#f2001c" stroke-width="1.35" stroke-linejoin="round"/>
<line x1="162.4" y1="461.5" x2="163.9" y2="461.5" stroke="#222" stroke-width="0.7"/>
<line x1="253.2" y1="461.5" x2="254.7" y2="461.5" stroke="#222" stroke-width="0.7"/>
<text x="159.90" y="439.10" font-size="9.5" text-anchor="middle" fill="#111" transform="rotate(-90 159.90 439.10)">0.04</text>
<text x="159.90" y="484.50" font-size="9.5" text-anchor="middle" fill="#111" transform="rotate(-90 159.90 484.50)">0</text>
<polyline points="279.1,451.1 280.5,451.5 282.0,451.9 283.4,453.1 284.8,453.5 286.6,454.1 288.3,454.9 290.0,455.2 291.6,454.0 293.2,453.7 294.8,452.8 296.4,452.0 297.8,451.2 299.2,451.2 300.7,450.5 302.1,449.8 303.9,449.7 305.7,449.0 307.4,449.1 308.9,451.4 310.5,453.3 312.0,454.9 313.5,456.8 315.4,455.9 317.3,454.5 319.2,453.8 321.1,453.5 323.3,455.0 325.2,453.6 327.1,452.8 328.6,453.5 330.2,454.4 331.7,455.5 333.6,453.3 335.5,451.3 337.7,451.1 339.6,449.7 341.5,448.9 343.4,449.7 345.3,451.0 346.6,452.1 347.9,453.4" fill="none" stroke="#d2d2ff" stroke-width="5.6" stroke-linejoin="round" opacity="0.75"/>
<polyline points="279.1,453.1 280.5,453.5 282.0,455.0 283.4,455.7 284.8,456.9 286.6,456.7 288.3,457.2 290.0,456.9 291.9,458.6 293.8,459.4 295.3,458.6 296.8,458.2 298.3,457.8 299.8,457.0 301.4,456.9 302.9,456.4 304.4,456.2 305.9,456.1 307.4,456.0 308.9,455.9 310.5,456.8 312.0,457.2 313.5,458.0 315.4,457.4 317.3,456.5 318.8,457.0 320.3,457.0 321.8,457.3 323.3,457.6 325.2,457.0 327.1,456.3 328.6,456.6 330.2,456.8 331.7,456.9 333.2,456.7 334.7,456.8 336.2,457.1 337.7,457.1 339.2,457.3 340.8,457.4 342.3,457.4 343.8,457.7 345.2,457.2 346.5,456.3 347.9,455.5" fill="none" stroke="#ffcdd2" stroke-width="5.6" stroke-linejoin="round" opacity="0.75"/>
<rect x="267.4" y="438.8" width="92.3" height="45.4" fill="none" stroke="#2a2a2a" stroke-width="0.8"/>
<line x1="313.5" y1="438.8" x2="313.5" y2="484.2" stroke="#222" stroke-width="0.9"/>
<polyline points="279.1,451.1 280.5,451.5 282.0,451.9 283.4,453.1 284.8,453.5 286.6,454.1 288.3,454.9 290.0,455.2 291.6,454.0 293.2,453.7 294.8,452.8 296.4,452.0 297.8,451.2 299.2,451.2 300.7,450.5 302.1,449.8 303.9,449.7 305.7,449.0 307.4,449.1 308.9,451.4 310.5,453.3 312.0,454.9 313.5,456.8 315.4,455.9 317.3,454.5 319.2,453.8 321.1,453.5 323.3,455.0 325.2,453.6 327.1,452.8 328.6,453.5 330.2,454.4 331.7,455.5 333.6,453.3 335.5,451.3 337.7,451.1 339.6,449.7 341.5,448.9 343.4,449.7 345.3,451.0 346.6,452.1 347.9,453.4" fill="none" stroke="#1414f0" stroke-width="1.35" stroke-linejoin="round"/>
<polyline points="279.1,453.1 280.5,453.5 282.0,455.0 283.4,455.7 284.8,456.9 286.6,456.7 288.3,457.2 290.0,456.9 291.9,458.6 293.8,459.4 295.3,458.6 296.8,458.2 298.3,457.8 299.8,457.0 301.4,456.9 302.9,456.4 304.4,456.2 305.9,456.1 307.4,456.0 308.9,455.9 310.5,456.8 312.0,457.2 313.5,458.0 315.4,457.4 317.3,456.5 318.8,457.0 320.3,457.0 321.8,457.3 323.3,457.6 325.2,457.0 327.1,456.3 328.6,456.6 330.2,456.8 331.7,456.9 333.2,456.7 334.7,456.8 336.2,457.1 337.7,457.1 339.2,457.3 340.8,457.4 342.3,457.4 343.8,457.7 345.2,457.2 346.5,456.3 347.9,455.5" fill="none" stroke="#f2001c" stroke-width="1.35" stroke-linejoin="round"/>
<line x1="267.4" y1="461.5" x2="268.9" y2="461.5" stroke="#222" stroke-width="0.7"/>
<line x1="358.2" y1="461.5" x2="359.7" y2="461.5" stroke="#222" stroke-width="0.7"/>
<text x="264.90" y="439.10" font-size="9.5" text-anchor="middle" fill="#111" transform="rotate(-90 264.90 439.10)">0.02</text>
<text x="264.90" y="484.50" font-size="9.5" text-anchor="middle" fill="#111" transform="rotate(-90 264.90 484.50)">0</text>
<rect x="56.7" y="507.5" width="92.3" height="45.4" fill="none" stroke="#2a2a2a" stroke-width="0.8"/>
<line x1="102.8" y1="507.5" x2="102.8" y2="552.9" stroke="#222" stroke-width="0.9"/>
<polyline points="68.1,533.3 69.5,533.4 71.0,533.3 72.4,533.8 73.8,533.9 75.3,534.0 76.7,534.2 78.2,534.7 79.6,534.7 81.0,534.7 82.5,534.7 83.9,534.7 85.4,535.1 86.8,534.1 88.2,533.9 89.7,533.3 91.1,532.6 92.6,532.6 94.0,532.2 95.4,531.9 96.9,531.3 98.3,530.8 99.7,529.6 101.1,529.8 102.5,529.5 103.9,529.3 105.4,530.3 106.8,530.6 108.2,530.5 109.7,530.8 111.1,531.4 112.6,531.7 114.0,532.4 115.4,531.9 116.9,532.7 118.3,532.7 119.8,533.3 121.2,532.7 122.6,532.6 124.1,532.2 125.5,531.6 127.0,531.0 128.4,530.6 129.8,531.1 131.3,530.8 132.7,530.5 134.1,530.9 135.5,531.1 136.9,531.1" fill="none" stroke="#1414f0" stroke-width="4.3" stroke-linejoin="round" stroke-linecap="butt"/>
<polyline points="68.1,527.3 69.5,527.8 71.0,527.7 72.4,528.6 73.8,528.5 75.3,528.6 76.7,529.5 78.2,529.6 79.6,529.7 81.0,529.6 82.5,528.9 83.9,529.0 85.4,528.8 86.8,529.3 88.2,528.4 89.7,529.3 91.1,528.8 92.6,528.8 94.0,529.2 95.4,529.4 96.9,529.2 98.3,529.0 99.7,528.7 101.1,528.4 102.5,527.8 103.9,528.0 105.4,528.0 106.8,528.8 108.2,528.8 109.7,529.0 111.1,529.4 112.6,530.6 114.0,530.3 115.4,530.7 116.9,530.4 118.3,529.4 119.8,529.7 121.2,529.1 122.6,529.6 124.1,528.9 125.5,529.1 127.0,529.0 128.4,528.7 129.8,529.0 131.3,528.6 132.7,528.0 134.1,528.5 135.5,528.0 136.9,528.5" fill="none" stroke="#f2001c" stroke-width="4.3" stroke-linejoin="round" stroke-linecap="butt"/>
<line x1="56.7" y1="530.2" x2="58.2" y2="530.2" stroke="#222" stroke-width="0.7"/>
<line x1="147.5" y1="530.2" x2="149.0" y2="530.2" stroke="#222" stroke-width="0.7"/>
<text x="54.20" y="507.80" font-size="9.5" text-anchor="middle" fill="#111" transform="rotate(-90 54.20 507.80)">0.02</text>
<text x="54.20" y="553.20" font-size="9.5" text-anchor="middle" fill="#111" transform="rotate(-90 54.20 553.20)">0</text>
<polyline points="174.1,535.3 175.7,535.3 177.3,535.1 178.9,535.4 180.8,534.5 182.7,533.5 184.5,533.8 186.3,533.8 188.0,533.9 189.7,533.9 191.4,533.6 193.1,534.2 194.8,534.1 196.4,533.9 198.0,533.3 199.6,533.3 201.2,533.1 202.4,527.9 203.9,525.1 205.5,525.5 207.0,525.6 208.5,526.1 210.4,527.1 212.3,527.9 214.2,527.8 216.1,527.9 217.6,528.7 219.1,529.6 220.6,529.2 222.1,528.8 223.6,528.5 225.2,530.4 226.7,531.9 228.2,532.2 229.7,532.9 231.2,533.1 232.7,533.1 234.2,533.6 235.8,534.2 237.3,533.6 238.8,532.9 240.2,532.6 241.5,532.3 242.9,531.5" fill="none" stroke="#d2d2ff" stroke-width="5.6" stroke-linejoin="round" opacity="0.75"/>
<polyline points="174.1,531.5 175.5,531.4 177.0,531.5 178.4,531.0 179.8,531.0 181.3,531.4 182.7,531.5 184.2,531.6 185.6,531.9 187.0,532.0 188.5,532.1 189.9,532.6 191.4,532.9 193.1,532.5 194.8,532.0 196.4,531.9 197.9,532.1 199.4,531.9 200.9,532.4 202.4,531.5 203.9,531.0 205.5,531.7 207.0,531.6 208.5,532.1 209.9,532.3 211.4,532.7 212.8,532.9 214.2,532.9 215.7,533.6 217.1,533.6 218.6,534.1 220.0,534.4 221.5,534.9 222.9,535.8 224.4,536.3 225.9,535.9 227.4,535.8 228.9,535.2 230.7,534.6 232.5,534.1 234.2,534.0 235.8,533.6 237.3,533.5 238.8,533.5 240.2,533.2 241.5,532.3 242.9,532.3" fill="none" stroke="#ffcdd2" stroke-width="5.6" stroke-linejoin="round" opacity="0.75"/>
<rect x="162.4" y="507.5" width="92.3" height="45.4" fill="none" stroke="#2a2a2a" stroke-width="0.8"/>
<line x1="208.6" y1="507.5" x2="208.6" y2="552.9" stroke="#222" stroke-width="0.9"/>
<polyline points="174.1,535.3 175.7,535.3 177.3,535.1 178.9,535.4 180.8,534.5 182.7,533.5 184.5,533.8 186.3,533.8 188.0,533.9 189.7,533.9 191.4,533.6 193.1,534.2 194.8,534.1 196.4,533.9 198.0,533.3 199.6,533.3 201.2,533.1 202.4,527.9 203.9,525.1 205.5,525.5 207.0,525.6 208.5,526.1 210.4,527.1 212.3,527.9 214.2,527.8 216.1,527.9 217.6,528.7 219.1,529.6 220.6,529.2 222.1,528.8 223.6,528.5 225.2,530.4 226.7,531.9 228.2,532.2 229.7,532.9 231.2,533.1 232.7,533.1 234.2,533.6 235.8,534.2 237.3,533.6 238.8,532.9 240.2,532.6 241.5,532.3 242.9,531.5" fill="none" stroke="#1414f0" stroke-width="1.35" stroke-linejoin="round"/>
<polyline points="174.1,531.5 175.5,531.4 177.0,531.5 178.4,531.0 179.8,531.0 181.3,531.4 182.7,531.5 184.2,531.6 185.6,531.9 187.0,532.0 188.5,532.1 189.9,532.6 191.4,532.9 193.1,532.5 194.8,532.0 196.4,531.9 197.9,532.1 199.4,531.9 200.9,532.4 202.4,531.5 203.9,531.0 205.5,531.7 207.0,531.6 208.5,532.1 209.9,532.3 211.4,532.7 212.8,532.9 214.2,532.9 215.7,533.6 217.1,533.6 218.6,534.1 220.0,534.4 221.5,534.9 222.9,535.8 224.4,536.3 225.9,535.9 227.4,535.8 228.9,535.2 230.7,534.6 232.5,534.1 234.2,534.0 235.8,533.6 237.3,533.5 238.8,533.5 240.2,533.2 241.5,532.3 242.9,532.3" fill="none" stroke="#f2001c" stroke-width="1.35" stroke-linejoin="round"/>
<line x1="162.4" y1="530.2" x2="163.9" y2="530.2" stroke="#222" stroke-width="0.7"/>
<line x1="253.2" y1="530.2" x2="254.7" y2="530.2" stroke="#222" stroke-width="0.7"/>
<text x="159.90" y="507.80" font-size="9.5" text-anchor="middle" fill="#111" transform="rotate(-90 159.90 507.80)">0.04</text>
<text x="159.90" y="553.20" font-size="9.5" text-anchor="middle" fill="#111" transform="rotate(-90 159.90 553.20)">0</text>
<polyline points="279.1,525.3 280.5,525.5 282.0,524.7 283.4,524.5 284.8,524.4 286.6,523.3 288.3,522.4 290.0,520.8 291.4,520.1 292.7,519.3 294.4,520.3 296.1,521.3 297.8,521.0 299.6,519.7 301.4,519.4 302.9,519.7 304.4,519.9 306.7,517.3 308.6,520.1 310.5,523.2 312.0,524.3 313.5,524.8 315.4,525.1 317.3,525.2 318.8,525.6 320.4,525.8 321.9,526.5 323.5,526.7 325.0,527.0 326.4,526.6 327.9,526.6 329.3,526.7 330.8,526.2 332.2,526.0 333.6,525.3 335.1,524.9 336.5,524.6 338.0,524.5 339.4,523.9 340.8,523.2 342.3,523.0 344.2,522.8 346.1,522.5 347.9,520.9" fill="none" stroke="#d2d2ff" stroke-width="5.6" stroke-linejoin="round" opacity="0.75"/>
<polyline points="279.1,526.4 280.5,526.0 282.0,526.5 283.4,526.0 284.8,526.2 286.6,525.5 288.3,524.1 290.0,523.2 291.9,523.6 293.8,524.6 295.3,524.8 296.8,524.4 298.3,524.6 299.8,525.0 301.4,525.3 302.9,525.8 304.4,525.9 306.7,525.0 308.6,526.9 310.5,529.1 312.0,529.6 313.5,530.5 315.4,529.7 317.3,529.0 318.8,529.0 320.4,528.3 321.9,528.1 323.5,527.9 325.0,527.9 326.4,527.2 327.9,526.8 329.3,526.5 330.8,526.3 332.2,525.5 333.6,524.8 335.1,524.7 336.5,524.0 338.0,523.5 339.4,522.6 340.8,522.3 342.3,521.8 343.8,522.5 345.3,523.3 346.6,523.5 347.9,523.2" fill="none" stroke="#ffcdd2" stroke-width="5.6" stroke-linejoin="round" opacity="0.75"/>
<rect x="267.4" y="507.5" width="92.3" height="45.4" fill="none" stroke="#2a2a2a" stroke-width="0.8"/>
<line x1="313.5" y1="507.5" x2="313.5" y2="552.9" stroke="#222" stroke-width="0.9"/>
<polyline points="279.1,525.3 280.5,525.5 282.0,524.7 283.4,524.5 284.8,524.4 286.6,523.3 288.3,522.4 290.0,520.8 291.4,520.1 292.7,519.3 294.4,520.3 296.1,521.3 297.8,521.0 299.6,519.7 301.4,519.4 302.9,519.7 304.4,519.9 306.7,517.3 308.6,520.1 310.5,523.2 312.0,524.3 313.5,524.8 315.4,525.1 317.3,525.2 318.8,525.6 320.4,525.8 321.9,526.5 323.5,526.7 325.0,527.0 326.4,526.6 327.9,526.6 329.3,526.7 330.8,526.2 332.2,526.0 333.6,525.3 335.1,524.9 336.5,524.6 338.0,524.5 339.4,523.9 340.8,523.2 342.3,523.0 344.2,522.8 346.1,522.5 347.9,520.9" fill="none" stroke="#1414f0" stroke-width="1.35" stroke-linejoin="round"/>
<polyline points="279.1,526.4 280.5,526.0 282.0,526.5 283.4,526.0 284.8,526.2 286.6,525.5 288.3,524.1 290.0,523.2 291.9,523.6 293.8,524.6 295.3,524.8 296.8,524.4 298.3,524.6 299.8,525.0 301.4,525.3 302.9,525.8 304.4,525.9 306.7,525.0 308.6,526.9 310.5,529.1 312.0,529.6 313.5,530.5 315.4,529.7 317.3,529.0 318.8,529.0 320.4,528.3 321.9,528.1 323.5,527.9 325.0,527.9 326.4,527.2 327.9,526.8 329.3,526.5 330.8,526.3 332.2,525.5 333.6,524.8 335.1,524.7 336.5,524.0 338.0,523.5 339.4,522.6 340.8,522.3 342.3,521.8 343.8,522.5 345.3,523.3 346.6,523.5 347.9,523.2" fill="none" stroke="#f2001c" stroke-width="1.35" stroke-linejoin="round"/>
<line x1="267.4" y1="530.2" x2="268.9" y2="530.2" stroke="#222" stroke-width="0.7"/>
<line x1="358.2" y1="530.2" x2="359.7" y2="530.2" stroke="#222" stroke-width="0.7"/>
<text x="264.90" y="507.80" font-size="9.5" text-anchor="middle" fill="#111" transform="rotate(-90 264.90 507.80)">0.02</text>
<text x="264.90" y="553.20" font-size="9.5" text-anchor="middle" fill="#111" transform="rotate(-90 264.90 553.20)">0</text>
<text x="55.20" y="566.60" font-size="9.5" text-anchor="middle" fill="#111">-1</text>
<text x="101.35" y="566.60" font-size="9.5" text-anchor="middle" fill="#111">0</text>
<text x="145.60" y="566.60" font-size="9.5" text-anchor="middle" fill="#111">1</text>
<text x="160.90" y="566.60" font-size="9.5" text-anchor="middle" fill="#111">-1</text>
<text x="207.05" y="566.60" font-size="9.5" text-anchor="middle" fill="#111">0</text>
<text x="253.00" y="566.60" font-size="9.5" text-anchor="middle" fill="#111">1</text>
<text x="265.90" y="566.60" font-size="9.5" text-anchor="middle" fill="#111">-1</text>
<text x="312.05" y="566.60" font-size="9.5" text-anchor="middle" fill="#111">0</text>
<text x="360.70" y="563.80" font-size="9.5" text-anchor="middle" fill="#111">1</text>
<text x="32.50" y="114.50" font-size="11.3" text-anchor="middle" fill="#111">Red</text>
<rect x="23.7" y="116.9" width="19.3" height="9" fill="#f9797e"/>
<text x="36.70" y="183.30" font-size="11.3" text-anchor="middle" fill="#111">Orange</text>
<rect x="23.7" y="185.7" width="19.3" height="9" fill="#ff8f54"/>
<text x="35.20" y="252.10" font-size="11.3" text-anchor="middle" fill="#111">Yellow</text>
<rect x="23.7" y="254.5" width="19.3" height="9" fill="#dba40e"/>
<text x="34.00" y="320.70" font-size="11.3" text-anchor="middle" fill="#111">Green</text>
<rect x="23.7" y="323.1" width="19.3" height="9" fill="#0bf50b"/>
<text x="33.20" y="389.30" font-size="11.3" text-anchor="middle" fill="#111">Blue</text>
<rect x="23.7" y="391.7" width="19.3" height="9" fill="#6b6bfb"/>
<text x="35.20" y="458.00" font-size="11.3" text-anchor="middle" fill="#111">Indigo</text>
<rect x="23.7" y="460.4" width="19.3" height="9" fill="#8a8ae0"/>
<text x="33.90" y="526.70" font-size="11.3" text-anchor="middle" fill="#111">Violet</text>
<rect x="23.7" y="529.1" width="19.3" height="9" fill="#cc0ecc"/>
<text x="69.00" y="83.40" font-size="13.3" text-anchor="start" fill="#111">ROT</text>
<line x1="99.2" y1="78.4" x2="105.9" y2="78.4" stroke="#ff2a50" stroke-width="1.2"/>
<line x1="105.9" y1="78.4" x2="112.6" y2="78.4" stroke="#2030ff" stroke-width="1.2"/>
<path d="M97.2 78.4 l4 -2.3 l0 4.6z" fill="#ff2a50"/>
<path d="M114.6 78.4 l-4 -2.3 l0 4.6z" fill="#2030ff"/>
<text x="115.80" y="83.40" font-size="13.3" text-anchor="start" fill="#111">NCL</text>
<text x="176.50" y="83.20" font-size="13.3" text-anchor="start" fill="#111">ENTO</text>
<line x1="215.5" y1="78.4" x2="222.6" y2="78.4" stroke="#ff2a50" stroke-width="1.2"/>
<line x1="222.6" y1="78.4" x2="229.6" y2="78.4" stroke="#2030ff" stroke-width="1.2"/>
<path d="M213.5 78.4 l4 -2.3 l0 4.6z" fill="#ff2a50"/>
<path d="M231.6 78.4 l-4 -2.3 l0 4.6z" fill="#2030ff"/>
<text x="233.80" y="83.20" font-size="13.3" text-anchor="start" fill="#111">NCL</text>
<text x="284.70" y="83.40" font-size="13.3" text-anchor="start" fill="#111">VW</text>
<line x1="311.0" y1="78.6" x2="318.0" y2="78.6" stroke="#ff2a50" stroke-width="1.2"/>
<line x1="318.0" y1="78.6" x2="325.0" y2="78.6" stroke="#2030ff" stroke-width="1.2"/>
<path d="M309.0 78.6 l4 -2.3 l0 4.6z" fill="#ff2a50"/>
<path d="M327.0 78.6 l-4 -2.3 l0 4.6z" fill="#2030ff"/>
<text x="330.20" y="83.40" font-size="13.3" text-anchor="start" fill="#111">NCL</text>
<text x="2.20" y="61.80" font-size="15.2" text-anchor="start" fill="#111">A.</text>
<text x="12.30" y="307.50" font-size="14" text-anchor="middle" fill="#111" transform="rotate(-90 12.30 307.50)">G.C</text>
<text x="221.20" y="593.10" font-size="16" text-anchor="middle" fill="#111">Time (Sec)</text>
</g>
<rect x="408.5" y="142.5" width="226.5" height="178.5" fill="#fff" stroke="#2a2a2a" stroke-width="0.85"/>
<line x1="408.5" y1="285.3" x2="411.1" y2="285.3" stroke="#222" stroke-width="0.8"/>
<line x1="632.4" y1="285.3" x2="635" y2="285.3" stroke="#222" stroke-width="0.8"/>
<line x1="408.5" y1="249.6" x2="411.1" y2="249.6" stroke="#222" stroke-width="0.8"/>
<line x1="632.4" y1="249.6" x2="635" y2="249.6" stroke="#222" stroke-width="0.8"/>
<line x1="408.5" y1="213.9" x2="411.1" y2="213.9" stroke="#222" stroke-width="0.8"/>
<line x1="632.4" y1="213.9" x2="635" y2="213.9" stroke="#222" stroke-width="0.8"/>
<line x1="408.5" y1="178.2" x2="411.1" y2="178.2" stroke="#222" stroke-width="0.8"/>
<line x1="632.4" y1="178.2" x2="635" y2="178.2" stroke="#222" stroke-width="0.8"/>
<text x="405.70" y="181.40" font-size="13.2" text-anchor="end" fill="#111">0.02</text>
<text x="405.70" y="252.80" font-size="13.2" text-anchor="end" fill="#111">0.01</text>
<text x="400.20" y="324.40" font-size="13.2" text-anchor="end" fill="#111">0</text>
<rect x="442.5" y="252.5" width="45.2" height="68.5" fill="#ed2024" stroke="#333" stroke-width="0.6"/>
<line x1="465.1" y1="251.7" x2="465.1" y2="253.3" stroke="#000" stroke-width="1"/>
<line x1="463.9" y1="252.5" x2="466.3" y2="252.5" stroke="#000" stroke-width="0.9"/>
<rect x="498.8" y="182.7" width="46.1" height="138.3" fill="#174a25" stroke="#333" stroke-width="0.6"/>
<line x1="521.9" y1="180.5" x2="521.9" y2="184.9" stroke="#000" stroke-width="1"/>
<line x1="520.6" y1="182.7" x2="523.1" y2="182.7" stroke="#000" stroke-width="0.9"/>
<rect x="555.4" y="225.7" width="45.7" height="95.3" fill="#f8f816" stroke="#333" stroke-width="0.6"/>
<line x1="578.2" y1="224.1" x2="578.2" y2="227.3" stroke="#000" stroke-width="1"/>
<line x1="577.0" y1="225.7" x2="579.5" y2="225.7" stroke="#000" stroke-width="0.9"/>
<path d="M439.5 173 V156 H514.9 V165.5" fill="none" stroke="#222" stroke-width="1.2"/>
<path d="M519.5 165.5 V156 H582.2 V219.5" fill="none" stroke="#222" stroke-width="1.2"/>
<path d="M458.1 177 V169.2 H566.4 V213.4" fill="none" stroke="#222" stroke-width="1.2"/>
<text x="481.30" y="156.65" font-size="15" text-anchor="middle" fill="#111">*</text>
<text x="543.50" y="156.65" font-size="15" text-anchor="middle" fill="#111">*</text>
<text x="529.00" y="172.35" font-size="15" text-anchor="middle" fill="#111">*</text>
<text x="528.30" y="139.30" font-size="15.8" text-anchor="middle" fill="#111">Direction to NCL</text>
<text x="380.90" y="120.90" font-size="15.2" text-anchor="start" fill="#111">B.</text>
<text x="377.70" y="229.00" font-size="14" text-anchor="middle" fill="#111" transform="rotate(-90 377.70 229.00)">G.C</text>
<rect x="407.8" y="371.8" width="227.2" height="178.4" fill="#fff" stroke="#2a2a2a" stroke-width="0.85"/>
<line x1="407.8" y1="514.5" x2="410.40000000000003" y2="514.5" stroke="#222" stroke-width="0.8"/>
<line x1="632.4" y1="514.5" x2="635" y2="514.5" stroke="#222" stroke-width="0.8"/>
<line x1="407.8" y1="478.8" x2="410.40000000000003" y2="478.8" stroke="#222" stroke-width="0.8"/>
<line x1="632.4" y1="478.8" x2="635" y2="478.8" stroke="#222" stroke-width="0.8"/>
<line x1="407.8" y1="443.2" x2="410.40000000000003" y2="443.2" stroke="#222" stroke-width="0.8"/>
<line x1="632.4" y1="443.2" x2="635" y2="443.2" stroke="#222" stroke-width="0.8"/>
<line x1="407.8" y1="407.5" x2="410.40000000000003" y2="407.5" stroke="#222" stroke-width="0.8"/>
<line x1="632.4" y1="407.5" x2="635" y2="407.5" stroke="#222" stroke-width="0.8"/>
<text x="405.00" y="410.68" font-size="13.2" text-anchor="end" fill="#111">0.02</text>
<text x="405.00" y="482.04" font-size="13.2" text-anchor="end" fill="#111">0.01</text>
<text x="399.50" y="553.60" font-size="13.2" text-anchor="end" fill="#111">0</text>
<rect x="441.3" y="473.7" width="45.6" height="76.5" fill="#ed2024" stroke="#333" stroke-width="0.6"/>
<line x1="464.1" y1="472.9" x2="464.1" y2="474.5" stroke="#000" stroke-width="1"/>
<line x1="462.9" y1="473.7" x2="465.3" y2="473.7" stroke="#000" stroke-width="0.9"/>
<rect x="498.2" y="413.4" width="45.8" height="136.8" fill="#174a25" stroke="#333" stroke-width="0.6"/>
<line x1="521.1" y1="411.2" x2="521.1" y2="415.6" stroke="#000" stroke-width="1"/>
<line x1="519.9" y1="413.4" x2="522.3" y2="413.4" stroke="#000" stroke-width="0.9"/>
<rect x="554.2" y="460.5" width="46.0" height="89.7" fill="#f8f816" stroke="#333" stroke-width="0.6"/>
<line x1="577.2" y1="458.9" x2="577.2" y2="462.1" stroke="#000" stroke-width="1"/>
<line x1="576.0" y1="460.5" x2="578.4" y2="460.5" stroke="#000" stroke-width="0.9"/>
<path d="M445.7 405.8 V388.4 H521.6 V399" fill="none" stroke="#222" stroke-width="1.2"/>
<path d="M526 399 V388.4 H587.5 V453" fill="none" stroke="#222" stroke-width="1.2"/>
<path d="M464 409.8 V402 H573 V446.9" fill="none" stroke="#222" stroke-width="1.2"/>
<text x="487.20" y="389.05" font-size="15" text-anchor="middle" fill="#111">*</text>
<text x="549.70" y="389.05" font-size="15" text-anchor="middle" fill="#111">*</text>
<text x="535.20" y="405.35" font-size="15" text-anchor="middle" fill="#111">*</text>
<text x="527.20" y="368.00" font-size="15.8" text-anchor="middle" fill="#111">Direction from NCL</text>
<text x="381.80" y="360.90" font-size="15.2" text-anchor="start" fill="#111">C.</text>
<text x="377.70" y="455.00" font-size="14" text-anchor="middle" fill="#111" transform="rotate(-90 377.70 455.00)">G.C</text>
<path d="M83.2 712.7 V836.6 H332.6" fill="none" stroke="#666" stroke-width="1.1"/>
<line x1="83.2" y1="719.4" x2="85.4" y2="719.4" stroke="#444" stroke-width="0.8"/>
<line x1="83.2" y1="746.9" x2="85.4" y2="746.9" stroke="#444" stroke-width="0.8"/>
<line x1="83.2" y1="774.5" x2="85.4" y2="774.5" stroke="#444" stroke-width="0.8"/>
<line x1="83.2" y1="802" x2="85.4" y2="802" stroke="#444" stroke-width="0.8"/>
<line x1="83.2" y1="829.6" x2="85.4" y2="829.6" stroke="#444" stroke-width="0.8"/>
<text x="61.00" y="723.00" font-size="11.6" text-anchor="middle" fill="#111">0.024</text>
<text x="61.00" y="750.50" font-size="11.6" text-anchor="middle" fill="#111">0.02</text>
<text x="61.00" y="778.10" font-size="11.6" text-anchor="middle" fill="#111">0.016</text>
<text x="61.00" y="805.60" font-size="11.6" text-anchor="middle" fill="#111">0.012</text>
<text x="61.00" y="833.20" font-size="11.6" text-anchor="middle" fill="#111">0.008</text>
<line x1="107.9" y1="803.2" x2="107.9" y2="809.5" stroke="#444" stroke-width="0.7"/>
<rect x="104.9" y="806.7" width="6" height="29.9" fill="#ed2024" stroke="#7a1010" stroke-width="0.7"/>
<line x1="107.9" y1="806.7" x2="107.9" y2="809.5" stroke="#222" stroke-width="0.6" opacity="0.7"/>
<line x1="114.9" y1="738.8" x2="114.9" y2="751.8" stroke="#444" stroke-width="0.7"/>
<rect x="111.9" y="746.0" width="6" height="90.6" fill="#174a25" stroke="#0c2a14" stroke-width="0.7"/>
<line x1="114.9" y1="746.0" x2="114.9" y2="751.8" stroke="#222" stroke-width="0.6" opacity="0.7"/>
<line x1="121.8" y1="790.5" x2="121.8" y2="801.3" stroke="#444" stroke-width="0.7"/>
<rect x="118.8" y="796.5" width="6" height="40.1" fill="#f8f816" stroke="#3a3a10" stroke-width="0.7"/>
<line x1="121.8" y1="796.5" x2="121.8" y2="801.3" stroke="#222" stroke-width="0.6" opacity="0.7"/>
<line x1="139.0" y1="800.2" x2="139.0" y2="807.4" stroke="#444" stroke-width="0.7"/>
<rect x="136.0" y="804.2" width="6" height="32.4" fill="#ed2024" stroke="#7a1010" stroke-width="0.7"/>
<line x1="139.0" y1="804.2" x2="139.0" y2="807.4" stroke="#222" stroke-width="0.6" opacity="0.7"/>
<line x1="145.9" y1="754.1" x2="145.9" y2="766.7" stroke="#444" stroke-width="0.7"/>
<rect x="142.9" y="761.1" width="6" height="75.5" fill="#174a25" stroke="#0c2a14" stroke-width="0.7"/>
<line x1="145.9" y1="761.1" x2="145.9" y2="766.7" stroke="#222" stroke-width="0.6" opacity="0.7"/>
<line x1="152.9" y1="799.2" x2="152.9" y2="808.2" stroke="#444" stroke-width="0.7"/>
<rect x="149.9" y="804.2" width="6" height="32.4" fill="#f8f816" stroke="#3a3a10" stroke-width="0.7"/>
<line x1="152.9" y1="804.2" x2="152.9" y2="808.2" stroke="#222" stroke-width="0.6" opacity="0.7"/>
<line x1="170.0" y1="799.9" x2="170.0" y2="806.0" stroke="#444" stroke-width="0.7"/>
<rect x="167.0" y="803.3" width="6" height="33.3" fill="#ed2024" stroke="#7a1010" stroke-width="0.7"/>
<line x1="170.0" y1="803.3" x2="170.0" y2="806.0" stroke="#222" stroke-width="0.6" opacity="0.7"/>
<line x1="176.9" y1="739.7" x2="176.9" y2="753.4" stroke="#444" stroke-width="0.7"/>
<rect x="173.9" y="747.3" width="6" height="89.3" fill="#174a25" stroke="#0c2a14" stroke-width="0.7"/>
<line x1="176.9" y1="747.3" x2="176.9" y2="753.4" stroke="#222" stroke-width="0.6" opacity="0.7"/>
<line x1="183.9" y1="788.6" x2="183.9" y2="799.4" stroke="#444" stroke-width="0.7"/>
<rect x="180.9" y="794.6" width="6" height="42.0" fill="#f8f816" stroke="#3a3a10" stroke-width="0.7"/>
<line x1="183.9" y1="794.6" x2="183.9" y2="799.4" stroke="#222" stroke-width="0.6" opacity="0.7"/>
<line x1="201.1" y1="808.2" x2="201.1" y2="815.0" stroke="#444" stroke-width="0.7"/>
<rect x="198.1" y="812.0" width="6" height="24.6" fill="#ed2024" stroke="#7a1010" stroke-width="0.7"/>
<line x1="201.1" y1="812.0" x2="201.1" y2="815.0" stroke="#222" stroke-width="0.6" opacity="0.7"/>
<line x1="208.0" y1="760.0" x2="208.0" y2="771.2" stroke="#444" stroke-width="0.7"/>
<rect x="205.0" y="766.2" width="6" height="70.4" fill="#174a25" stroke="#0c2a14" stroke-width="0.7"/>
<line x1="208.0" y1="766.2" x2="208.0" y2="771.2" stroke="#222" stroke-width="0.6" opacity="0.7"/>
<line x1="215.0" y1="795.4" x2="215.0" y2="805.5" stroke="#444" stroke-width="0.7"/>
<rect x="212.0" y="801.0" width="6" height="35.6" fill="#f8f816" stroke="#3a3a10" stroke-width="0.7"/>
<line x1="215.0" y1="801.0" x2="215.0" y2="805.5" stroke="#222" stroke-width="0.6" opacity="0.7"/>
<line x1="232.2" y1="810.3" x2="232.2" y2="816.1" stroke="#444" stroke-width="0.7"/>
<rect x="229.2" y="813.5" width="6" height="23.1" fill="#ed2024" stroke="#7a1010" stroke-width="0.7"/>
<line x1="232.2" y1="813.5" x2="232.2" y2="816.1" stroke="#222" stroke-width="0.6" opacity="0.7"/>
<line x1="239.1" y1="766.1" x2="239.1" y2="776.9" stroke="#444" stroke-width="0.7"/>
<rect x="236.1" y="772.1" width="6" height="64.5" fill="#174a25" stroke="#0c2a14" stroke-width="0.7"/>
<line x1="239.1" y1="772.1" x2="239.1" y2="776.9" stroke="#222" stroke-width="0.6" opacity="0.7"/>
<line x1="246.1" y1="808.0" x2="246.1" y2="814.8" stroke="#444" stroke-width="0.7"/>
<rect x="243.1" y="811.8" width="6" height="24.8" fill="#f8f816" stroke="#3a3a10" stroke-width="0.7"/>
<line x1="246.1" y1="811.8" x2="246.1" y2="814.8" stroke="#222" stroke-width="0.6" opacity="0.7"/>
<line x1="263.2" y1="797.2" x2="263.2" y2="804.8" stroke="#444" stroke-width="0.7"/>
<rect x="260.2" y="801.4" width="6" height="35.2" fill="#ed2024" stroke="#7a1010" stroke-width="0.7"/>
<line x1="263.2" y1="801.4" x2="263.2" y2="804.8" stroke="#222" stroke-width="0.6" opacity="0.7"/>
<line x1="270.1" y1="746.3" x2="270.1" y2="759.6" stroke="#444" stroke-width="0.7"/>
<rect x="267.1" y="753.7" width="6" height="82.9" fill="#174a25" stroke="#0c2a14" stroke-width="0.7"/>
<line x1="270.1" y1="753.7" x2="270.1" y2="759.6" stroke="#222" stroke-width="0.6" opacity="0.7"/>
<line x1="277.1" y1="798.3" x2="277.1" y2="807.3" stroke="#444" stroke-width="0.7"/>
<rect x="274.1" y="803.3" width="6" height="33.3" fill="#f8f816" stroke="#3a3a10" stroke-width="0.7"/>
<line x1="277.1" y1="803.3" x2="277.1" y2="807.3" stroke="#222" stroke-width="0.6" opacity="0.7"/>
<line x1="294.2" y1="810.9" x2="294.2" y2="817.6" stroke="#444" stroke-width="0.7"/>
<rect x="291.2" y="814.6" width="6" height="22.0" fill="#ed2024" stroke="#7a1010" stroke-width="0.7"/>
<line x1="294.2" y1="814.6" x2="294.2" y2="817.6" stroke="#222" stroke-width="0.6" opacity="0.7"/>
<line x1="301.1" y1="765.3" x2="301.1" y2="776.1" stroke="#444" stroke-width="0.7"/>
<rect x="298.1" y="771.3" width="6" height="65.3" fill="#174a25" stroke="#0c2a14" stroke-width="0.7"/>
<line x1="301.1" y1="771.3" x2="301.1" y2="776.1" stroke="#222" stroke-width="0.6" opacity="0.7"/>
<line x1="308.1" y1="803.4" x2="308.1" y2="811.0" stroke="#444" stroke-width="0.7"/>
<rect x="305.1" y="807.6" width="6" height="29.0" fill="#f8f816" stroke="#3a3a10" stroke-width="0.7"/>
<line x1="308.1" y1="807.6" x2="308.1" y2="811.0" stroke="#222" stroke-width="0.6" opacity="0.7"/>
<path d="M343.4 712.3 V836.1 H592.9" fill="none" stroke="#666" stroke-width="1.1"/>
<line x1="343.4" y1="719.4" x2="345.59999999999997" y2="719.4" stroke="#444" stroke-width="0.8"/>
<line x1="343.4" y1="746.9" x2="345.59999999999997" y2="746.9" stroke="#444" stroke-width="0.8"/>
<line x1="343.4" y1="774.5" x2="345.59999999999997" y2="774.5" stroke="#444" stroke-width="0.8"/>
<line x1="343.4" y1="802" x2="345.59999999999997" y2="802" stroke="#444" stroke-width="0.8"/>
<line x1="343.4" y1="829.6" x2="345.59999999999997" y2="829.6" stroke="#444" stroke-width="0.8"/>
<line x1="368.2" y1="809.4" x2="368.2" y2="815.7" stroke="#444" stroke-width="0.7"/>
<rect x="365.2" y="812.9" width="6" height="23.2" fill="#ed2024" stroke="#7a1010" stroke-width="0.7"/>
<line x1="368.2" y1="812.9" x2="368.2" y2="815.7" stroke="#222" stroke-width="0.6" opacity="0.7"/>
<line x1="375.1" y1="731.2" x2="375.1" y2="746.5" stroke="#444" stroke-width="0.7"/>
<rect x="372.1" y="739.7" width="6" height="96.4" fill="#174a25" stroke="#0c2a14" stroke-width="0.7"/>
<line x1="375.1" y1="739.7" x2="375.1" y2="746.5" stroke="#222" stroke-width="0.6" opacity="0.7"/>
<line x1="382.1" y1="787.1" x2="382.1" y2="797.2" stroke="#444" stroke-width="0.7"/>
<rect x="379.1" y="792.7" width="6" height="43.4" fill="#f8f816" stroke="#3a3a10" stroke-width="0.7"/>
<line x1="382.1" y1="792.7" x2="382.1" y2="797.2" stroke="#222" stroke-width="0.6" opacity="0.7"/>
<line x1="399.2" y1="813.1" x2="399.2" y2="818.7" stroke="#444" stroke-width="0.7"/>
<rect x="396.2" y="816.2" width="6" height="19.9" fill="#ed2024" stroke="#7a1010" stroke-width="0.7"/>
<line x1="399.2" y1="816.2" x2="399.2" y2="818.7" stroke="#222" stroke-width="0.6" opacity="0.7"/>
<line x1="406.1" y1="743.9" x2="406.1" y2="758.8" stroke="#444" stroke-width="0.7"/>
<rect x="403.1" y="752.2" width="6" height="83.9" fill="#174a25" stroke="#0c2a14" stroke-width="0.7"/>
<line x1="406.1" y1="752.2" x2="406.1" y2="758.8" stroke="#222" stroke-width="0.6" opacity="0.7"/>
<line x1="413.1" y1="792.0" x2="413.1" y2="800.1" stroke="#444" stroke-width="0.7"/>
<rect x="410.1" y="796.5" width="6" height="39.6" fill="#f8f816" stroke="#3a3a10" stroke-width="0.7"/>
<line x1="413.1" y1="796.5" x2="413.1" y2="800.1" stroke="#222" stroke-width="0.6" opacity="0.7"/>
<line x1="430.2" y1="809.9" x2="430.2" y2="815.3" stroke="#444" stroke-width="0.7"/>
<rect x="427.2" y="812.9" width="6" height="23.2" fill="#ed2024" stroke="#7a1010" stroke-width="0.7"/>
<line x1="430.2" y1="812.9" x2="430.2" y2="815.3" stroke="#222" stroke-width="0.6" opacity="0.7"/>
<line x1="437.1" y1="738.4" x2="437.1" y2="752.4" stroke="#444" stroke-width="0.7"/>
<rect x="434.1" y="746.2" width="6" height="89.9" fill="#174a25" stroke="#0c2a14" stroke-width="0.7"/>
<line x1="437.1" y1="746.2" x2="437.1" y2="752.4" stroke="#222" stroke-width="0.6" opacity="0.7"/>
<line x1="444.1" y1="787.4" x2="444.1" y2="796.9" stroke="#444" stroke-width="0.7"/>
<rect x="441.1" y="792.7" width="6" height="43.4" fill="#f8f816" stroke="#3a3a10" stroke-width="0.7"/>
<line x1="444.1" y1="792.7" x2="444.1" y2="796.9" stroke="#222" stroke-width="0.6" opacity="0.7"/>
<line x1="461.2" y1="815.4" x2="461.2" y2="821.5" stroke="#444" stroke-width="0.7"/>
<rect x="458.2" y="818.8" width="6" height="17.3" fill="#ed2024" stroke="#7a1010" stroke-width="0.7"/>
<line x1="461.2" y1="818.8" x2="461.2" y2="821.5" stroke="#222" stroke-width="0.6" opacity="0.7"/>
<line x1="468.1" y1="741.8" x2="468.1" y2="755.5" stroke="#444" stroke-width="0.7"/>
<rect x="465.1" y="749.4" width="6" height="86.7" fill="#174a25" stroke="#0c2a14" stroke-width="0.7"/>
<line x1="468.1" y1="749.4" x2="468.1" y2="755.5" stroke="#222" stroke-width="0.6" opacity="0.7"/>
<line x1="475.1" y1="793.3" x2="475.1" y2="801.0" stroke="#444" stroke-width="0.7"/>
<rect x="472.1" y="797.6" width="6" height="38.5" fill="#f8f816" stroke="#3a3a10" stroke-width="0.7"/>
<line x1="475.1" y1="797.6" x2="475.1" y2="801.0" stroke="#222" stroke-width="0.6" opacity="0.7"/>
<line x1="492.4" y1="811.2" x2="492.4" y2="817.3" stroke="#444" stroke-width="0.7"/>
<rect x="489.4" y="814.6" width="6" height="21.5" fill="#ed2024" stroke="#7a1010" stroke-width="0.7"/>
<line x1="492.4" y1="814.6" x2="492.4" y2="817.3" stroke="#222" stroke-width="0.6" opacity="0.7"/>
<line x1="499.3" y1="713.0" x2="499.3" y2="733.5" stroke="#444" stroke-width="0.7"/>
<rect x="496.3" y="724.4" width="6" height="111.7" fill="#174a25" stroke="#0c2a14" stroke-width="0.7"/>
<line x1="499.3" y1="724.4" x2="499.3" y2="733.5" stroke="#222" stroke-width="0.6" opacity="0.7"/>
<line x1="506.3" y1="804.5" x2="506.3" y2="811.2" stroke="#444" stroke-width="0.7"/>
<rect x="503.3" y="808.2" width="6" height="27.9" fill="#f8f816" stroke="#3a3a10" stroke-width="0.7"/>
<line x1="506.3" y1="808.2" x2="506.3" y2="811.2" stroke="#222" stroke-width="0.6" opacity="0.7"/>
<line x1="523.4" y1="811.4" x2="523.4" y2="817.2" stroke="#444" stroke-width="0.7"/>
<rect x="520.4" y="814.6" width="6" height="21.5" fill="#ed2024" stroke="#7a1010" stroke-width="0.7"/>
<line x1="523.4" y1="814.6" x2="523.4" y2="817.2" stroke="#222" stroke-width="0.6" opacity="0.7"/>
<line x1="530.4" y1="715.3" x2="530.4" y2="733.7" stroke="#444" stroke-width="0.7"/>
<rect x="527.4" y="725.5" width="6" height="110.6" fill="#174a25" stroke="#0c2a14" stroke-width="0.7"/>
<line x1="530.4" y1="725.5" x2="530.4" y2="733.7" stroke="#222" stroke-width="0.6" opacity="0.7"/>
<line x1="537.3" y1="787.5" x2="537.3" y2="798.8" stroke="#444" stroke-width="0.7"/>
<rect x="534.3" y="793.8" width="6" height="42.3" fill="#f8f816" stroke="#3a3a10" stroke-width="0.7"/>
<line x1="537.3" y1="793.8" x2="537.3" y2="798.8" stroke="#222" stroke-width="0.6" opacity="0.7"/>
<line x1="554.5" y1="816.3" x2="554.5" y2="822.8" stroke="#444" stroke-width="0.7"/>
<rect x="551.5" y="819.9" width="6" height="16.2" fill="#ed2024" stroke="#7a1010" stroke-width="0.7"/>
<line x1="554.5" y1="819.9" x2="554.5" y2="822.8" stroke="#222" stroke-width="0.6" opacity="0.7"/>
<line x1="561.5" y1="733.9" x2="561.5" y2="750.1" stroke="#444" stroke-width="0.7"/>
<rect x="558.5" y="742.9" width="6" height="93.2" fill="#174a25" stroke="#0c2a14" stroke-width="0.7"/>
<line x1="561.5" y1="742.9" x2="561.5" y2="750.1" stroke="#222" stroke-width="0.6" opacity="0.7"/>
<line x1="568.4" y1="800.2" x2="568.4" y2="807.8" stroke="#444" stroke-width="0.7"/>
<rect x="565.4" y="804.4" width="6" height="31.7" fill="#f8f816" stroke="#3a3a10" stroke-width="0.7"/>
<line x1="568.4" y1="804.4" x2="568.4" y2="807.8" stroke="#222" stroke-width="0.6" opacity="0.7"/>
<text x="42.50" y="778.00" font-size="13.5" text-anchor="middle" fill="#111" transform="rotate(-90 42.50 778.00)">G.C</text>
<text x="12.40" y="690.10" font-size="15.2" text-anchor="start" fill="#111">D.</text>
<text x="188.00" y="690.10" font-size="15.7" text-anchor="middle" fill="#111">Direction from NCL</text>
<text x="441.30" y="689.90" font-size="15.4" text-anchor="middle" fill="#111">Direction to NCL</text>
<path d="M236.4 743.5 V697.3 H499.1 V705.3" fill="none" stroke="#2a1c1c" stroke-width="1.2"/>
<path d="M270.1 739.9 V703.4 H531.3 V709.6" fill="none" stroke="#2a1c1c" stroke-width="1.2"/>
<path d="M301.5 745.6 V710.5 H564.2 V730.3" fill="none" stroke="#2a1c1c" stroke-width="1.2"/>
<text x="368.60" y="694.18" font-size="14" text-anchor="middle" fill="#111">*</text>
<text x="380.80" y="706.38" font-size="14" text-anchor="middle" fill="#111">*</text>
<text x="399.30" y="713.48" font-size="14" text-anchor="middle" fill="#111">*</text>
<rect x="109.2" y="841.1" width="19.2" height="13.8" fill="#ff7b80"/>
<rect x="137.2" y="841.1" width="19.7" height="13.8" fill="#ff8f50"/>
<rect x="168.5" y="841.1" width="21.0" height="13.8" fill="#dca510"/>
<rect x="199.6" y="841.1" width="21.1" height="13.8" fill="#08f808"/>
<rect x="230.8" y="841.1" width="21.3" height="13.8" fill="#6868fc"/>
<rect x="262" y="841.1" width="20.8" height="13.8" fill="#8888e0"/>
<rect x="292.9" y="841.1" width="21.8" height="13.8" fill="#cf0fd0"/>
<rect x="367.9" y="841.9" width="19.1" height="13.8" fill="#ff7b80"/>
<rect x="396.1" y="841.9" width="19.5" height="13.8" fill="#ff8f50"/>
<rect x="427.1" y="841.9" width="21.4" height="13.8" fill="#dca510"/>
<rect x="458.3" y="841.9" width="21.1" height="13.8" fill="#08f808"/>
<rect x="489.4" y="841.9" width="21.2" height="13.8" fill="#6868fc"/>
<rect x="520.3" y="841.9" width="21.3" height="13.8" fill="#8888e0"/>
<rect x="551.5" y="841.9" width="21.9" height="13.8" fill="#cf0fd0"/>
<text x="114.6" y="872.8" font-size="13.2" text-anchor="middle" fill="#111" transform="rotate(-45 114.6 872.8)" dy="4.2">Red</text>
<text x="147" y="872.8" font-size="13.2" text-anchor="middle" fill="#111" transform="rotate(-45 147 872.8)" dy="4.2">Orange</text>
<text x="182.6" y="872.8" font-size="13.2" text-anchor="middle" fill="#111" transform="rotate(-45 182.6 872.8)" dy="4.2">Yellow</text>
<text x="214.4" y="873.3" font-size="13.2" text-anchor="middle" fill="#111" transform="rotate(-45 214.4 873.3)" dy="4.2">Green</text>
<text x="243.5" y="873.3" font-size="13.2" text-anchor="middle" fill="#111" transform="rotate(-45 243.5 873.3)" dy="4.2">Blue</text>
<text x="278.4" y="873.3" font-size="13.2" text-anchor="middle" fill="#111" transform="rotate(-45 278.4 873.3)" dy="4.2">Indigo</text>
<text x="310.4" y="871.8" font-size="13.2" text-anchor="middle" fill="#111" transform="rotate(-45 310.4 871.8)" dy="4.2">Violet</text>
<text x="373.4" y="872.8" font-size="13.2" text-anchor="middle" fill="#111" transform="rotate(-45 373.4 872.8)" dy="4.2">Red</text>
<text x="405.2" y="873.6" font-size="13.2" text-anchor="middle" fill="#111" transform="rotate(-45 405.2 873.6)" dy="4.2">Orange</text>
<text x="440.4" y="873.3" font-size="13.2" text-anchor="middle" fill="#111" transform="rotate(-45 440.4 873.3)" dy="4.2">Yellow</text>
<text x="474.3" y="874.2" font-size="13.2" text-anchor="middle" fill="#111" transform="rotate(-45 474.3 874.2)" dy="4.2">Green</text>
<text x="503.4" y="873.4" font-size="13.2" text-anchor="middle" fill="#111" transform="rotate(-45 503.4 873.4)" dy="4.2">Blue</text>
<text x="537.8" y="874.2" font-size="13.2" text-anchor="middle" fill="#111" transform="rotate(-45 537.8 874.2)" dy="4.2">Indigo</text>
<text x="569.8" y="872.6" font-size="13.2" text-anchor="middle" fill="#111" transform="rotate(-45 569.8 872.6)" dy="4.2">Violet</text>
</svg>
</body></html>
